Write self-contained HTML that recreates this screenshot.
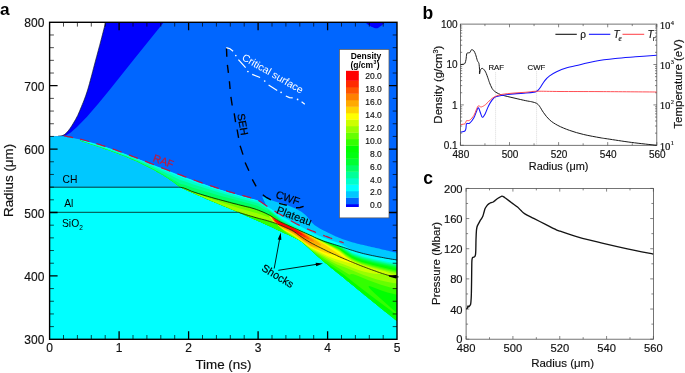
<!DOCTYPE html>
<html><head><meta charset="utf-8"><title>figure</title>
<style>
html,body{margin:0;padding:0;background:#fff;}
body{width:685px;height:373px;overflow:hidden;font-family:"Liberation Sans",sans-serif;}
svg{display:block;will-change:transform;}
.ser{font-family:"Liberation Serif",serif;}
</style></head><body>
<svg width="685" height="373" viewBox="0 0 685 373" style="font-family:'Liberation Sans',sans-serif">
<rect width="685" height="373" fill="#fff"/>
<defs>
<clipPath id="cpA"><rect x="49.6" y="22.3" width="347.4" height="317.0"/></clipPath>
<clipPath id="cpS"><polygon points="80.0,139.5 82.0,140.0 84.0,140.5 86.0,141.0 88.0,141.6 90.0,142.1 92.0,142.7 94.0,143.3 96.1,143.9 98.1,144.5 100.1,145.1 102.1,145.8 104.1,146.4 106.1,147.1 108.1,147.8 110.1,148.5 112.1,149.2 114.1,149.9 116.1,150.6 118.1,151.3 120.1,152.1 122.1,152.8 124.1,153.6 126.1,154.3 128.2,155.1 130.2,155.8 132.2,156.6 134.2,157.4 136.2,158.2 138.2,159.0 140.2,159.7 142.2,160.5 144.2,161.3 146.2,162.1 148.2,162.9 150.2,163.7 152.2,164.5 154.2,165.3 156.2,166.1 158.2,166.9 160.3,167.6 162.3,168.4 164.3,169.2 166.3,170.0 168.3,170.8 170.3,171.6 172.3,172.3 174.3,173.1 176.3,173.9 178.3,174.6 180.3,175.4 182.3,176.2 184.3,176.9 186.3,177.7 188.3,178.4 190.3,179.1 192.4,179.9 194.4,180.6 196.4,181.3 198.4,182.0 200.4,182.7 202.4,183.4 204.4,184.1 206.4,184.8 208.4,185.5 210.4,186.2 212.4,186.8 214.4,187.5 216.4,188.1 218.4,188.8 220.4,189.4 222.4,190.1 224.5,190.7 226.5,191.3 228.5,191.9 230.5,192.5 232.5,193.1 234.5,193.7 236.5,194.3 238.5,194.9 240.5,195.4 242.5,196.0 244.5,196.5 246.5,197.1 248.5,197.6 250.5,198.2 252.5,198.7 254.5,199.2 256.6,199.7 258.6,200.7 260.6,202.0 262.6,203.2 264.6,204.4 266.6,205.7 268.6,206.9 270.6,208.1 272.6,209.4 274.6,210.6 276.6,211.8 278.6,213.1 280.6,214.3 282.6,215.4 284.6,216.6 286.6,217.8 288.7,219.0 290.7,220.1 292.7,221.3 294.7,222.4 296.7,223.5 298.7,224.5 300.7,225.5 302.7,226.4 304.7,227.3 306.7,228.2 308.7,229.0 310.7,229.9 312.7,230.7 314.7,231.5 316.7,232.3 318.7,233.1 320.8,233.9 322.8,234.7 324.8,235.4 326.8,236.2 328.8,236.9 330.8,237.7 332.8,238.4 334.8,239.1 336.8,239.9 338.8,240.6 340.8,241.3 342.8,242.1 344.8,242.8 346.8,243.6 348.8,244.4 350.8,245.2 352.9,246.0 354.9,246.8 356.9,247.6 358.9,248.3 360.9,249.0 362.9,249.7 364.9,250.4 366.9,250.9 368.9,251.5 370.9,252.0 372.9,252.5 374.9,252.9 376.9,253.4 378.9,253.8 380.9,254.2 382.9,254.7 385.0,255.1 387.0,255.4 389.0,255.8 391.0,256.2 393.0,256.6 395.0,256.9 397.0,257.3 399.0,257.7 399.0,322.6 397.0,321.0 395.0,319.4 393.0,317.8 391.0,316.2 389.0,314.6 387.0,313.0 385.0,311.4 382.9,309.8 380.9,308.2 378.9,306.6 376.9,304.9 374.9,303.3 372.9,301.7 370.9,300.1 368.9,298.5 366.9,296.8 364.9,295.2 362.9,293.6 360.9,291.9 358.9,290.3 356.9,288.7 354.9,287.0 352.9,285.3 350.8,283.7 348.8,282.0 346.8,280.4 344.8,278.7 342.8,277.1 340.8,275.5 338.8,273.9 336.8,272.3 334.8,270.7 332.8,269.1 330.8,267.5 328.8,265.8 326.8,264.1 324.8,262.4 322.8,260.7 320.8,258.9 318.7,257.2 316.7,255.4 314.7,253.6 312.7,251.8 310.7,250.0 308.7,248.1 306.7,246.3 304.7,244.6 302.7,242.8 300.7,241.3 298.7,240.0 296.7,238.9 294.7,238.0 292.7,237.0 290.7,236.0 288.7,235.1 286.6,234.1 284.6,233.2 282.6,232.3 280.6,231.3 278.6,230.4 276.6,229.5 274.6,228.5 272.6,227.6 270.6,226.6 268.6,225.7 266.6,224.8 264.6,223.9 262.6,223.0 260.6,222.1 258.6,221.2 256.6,220.3 254.5,219.5 252.5,218.6 250.5,217.7 248.5,216.8 246.5,215.9 244.5,215.0 242.5,214.1 240.5,213.2 238.5,212.3 236.5,211.5 234.5,210.6 232.5,209.8 230.5,208.9 228.5,208.1 226.5,207.3 224.5,206.4 222.4,205.6 220.4,204.8 218.4,204.0 216.4,203.1 214.4,202.3 212.4,201.4 210.4,200.6 208.4,199.7 206.4,198.9 204.4,198.0 202.4,197.1 200.4,196.2 198.4,195.4 196.4,194.5 194.4,193.6 192.4,192.7 190.3,191.8 188.3,190.9 186.3,190.0 184.3,189.1 182.3,188.2 180.3,187.3 178.3,185.7 176.3,184.2 174.3,182.7 172.3,181.3 170.3,179.9 168.3,178.6 166.3,177.3 164.3,176.0 162.3,174.8 160.3,173.6 158.2,172.4 156.2,171.2 154.2,170.1 152.2,169.0 150.2,167.9 148.2,166.9 146.2,165.9 144.2,164.9 142.2,163.9 140.2,162.9 138.2,162.0 136.2,161.1 134.2,160.2 132.2,159.4 130.2,158.5 128.2,157.7 126.1,156.8 124.1,156.0 122.1,155.3 120.1,154.5 118.1,153.7 116.1,153.0 114.1,152.2 112.1,151.5 110.1,150.8 108.1,150.1 106.1,149.4 104.1,148.7 102.1,148.0 100.1,147.3 98.1,146.6 96.1,145.9 94.0,145.3 92.0,144.6 90.0,143.9 88.0,143.2 86.0,142.5 84.0,141.9 82.0,141.2 80.0,140.5"/></clipPath>
</defs>
<g clip-path="url(#cpA)">
<rect x="49.6" y="22.3" width="347.4" height="317.0" fill="#0066ff"/>
<polygon points="105.7,22.0 164.0,22.0 135.0,58.0 109.5,90.0 98.0,104.0 87.0,116.8 77.0,127.0 70.8,132.5 65.0,136.0 62.0,136.2 58.0,136.2 63.0,135.4 66.5,132.8 70.0,128.5 73.5,123.0 77.7,115.5 81.5,106.5 84.9,98.0 88.8,86.0 95.2,62.0 101.1,40.0 105.7,22.0" fill="#0000fe"/>
<path d="M49,22 L105.7,22 L105.70,22.00 C104.93,25.00 102.85,33.33 101.10,40.00 C99.35,46.67 97.25,54.33 95.20,62.00 C93.15,69.67 90.52,80.00 88.80,86.00 C87.08,92.00 86.12,94.58 84.90,98.00 C83.68,101.42 82.70,103.58 81.50,106.50 C80.30,109.42 79.03,112.75 77.70,115.50 C76.37,118.25 74.78,120.83 73.50,123.00 C72.22,125.17 71.17,126.87 70.00,128.50 C68.83,130.13 67.67,131.65 66.50,132.80 C65.33,133.95 64.42,134.83 63.00,135.40 C61.58,135.97 58.83,136.07 58.00,136.20 L49,136.2 Z" fill="#fff"/>
<path d="M105.70,22.00 C104.93,25.00 102.85,33.33 101.10,40.00 C99.35,46.67 97.25,54.33 95.20,62.00 C93.15,69.67 90.52,80.00 88.80,86.00 C87.08,92.00 86.12,94.58 84.90,98.00 C83.68,101.42 82.70,103.58 81.50,106.50 C80.30,109.42 79.03,112.75 77.70,115.50 C76.37,118.25 74.78,120.83 73.50,123.00 C72.22,125.17 71.17,126.87 70.00,128.50 C68.83,130.13 67.67,131.65 66.50,132.80 C65.33,133.95 64.42,134.83 63.00,135.40 C61.58,135.97 58.83,136.07 58.00,136.20" fill="none" stroke="#101030" stroke-width="0.7"/>
<path d="M364.8,22 L385.2,22 L381.6,25.4 L378.4,27.8 Q376.5,28.8 374.4,28 L370.6,26.3 L367.5,24.2 Z" fill="#0000fe"/>
<polygon points="49.5,136.2 51.4,136.2 53.3,136.2 55.2,136.2 57.1,136.2 59.0,136.2 60.9,136.2 62.8,136.3 64.7,136.4 66.6,136.9 68.6,137.2 70.5,137.6 72.4,137.9 74.3,138.3 76.2,138.7 78.1,139.1 80.0,139.5 81.9,140.0 83.8,140.5 85.7,141.0 87.6,141.5 89.5,142.0 91.4,142.5 93.3,143.1 95.2,143.6 97.1,144.2 99.0,144.8 100.9,145.4 102.8,146.0 104.7,146.7 106.7,147.3 108.6,148.0 110.5,148.6 112.4,149.3 114.3,150.0 116.2,150.6 118.1,151.3 120.0,152.0 121.9,152.7 123.8,153.4 125.7,154.2 127.6,154.9 129.5,155.6 131.4,156.3 133.3,157.1 135.2,157.8 137.1,158.5 139.0,159.3 140.9,160.0 142.8,160.8 144.8,161.5 146.7,162.3 148.6,163.0 150.5,163.8 152.4,164.5 154.3,165.3 156.2,166.0 158.1,166.8 160.0,167.5 161.9,168.3 163.8,169.0 165.7,169.8 167.6,170.5 169.5,171.3 171.4,172.0 173.3,172.7 175.2,173.5 177.1,174.2 179.0,174.9 180.9,175.6 182.9,176.4 184.8,177.1 186.7,177.8 188.6,178.5 190.5,179.2 192.4,179.9 194.3,180.6 196.2,181.2 198.1,181.9 200.0,182.6 200.0,187.2 49.5,187.2" fill="#00c8ff"/>
<polygon points="49.5,187.2 180.0,187.2 180.0,187.2 182.2,188.2 184.4,189.2 186.6,190.2 188.8,191.2 191.1,192.2 193.3,193.1 195.5,194.1 197.7,195.1 199.9,196.0 202.1,197.0 204.3,198.0 206.5,198.9 208.8,199.9 211.0,200.8 213.2,201.8 215.4,202.7 217.6,203.6 219.8,204.5 222.0,205.4 224.2,206.4 226.5,207.3 228.7,208.2 230.9,209.1 233.1,210.0 235.3,211.0 237.5,211.9 239.7,212.9 241.9,213.9 244.2,214.9 246.4,215.9 248.6,216.9 250.8,217.8 253.0,218.8 255.2,219.7 257.4,220.7 259.6,221.6 261.8,222.6 264.1,223.6 266.3,224.6 268.5,225.7 270.7,226.7 272.9,227.7 275.1,228.8 277.3,229.8 279.5,230.8 281.8,231.9 284.0,232.9 286.2,233.9 288.4,234.9 290.6,236.0 292.8,237.1 295.0,238.1 297.2,239.2 299.5,240.5 301.7,242.0 303.9,243.8 306.1,245.8 308.3,247.7 310.5,249.8 312.7,251.8 314.9,253.8 317.2,255.8 319.4,257.7 321.6,259.6 323.8,261.6 326.0,263.5 328.2,265.3 330.4,267.2 332.6,269.0 334.8,270.7 337.1,272.5 339.3,274.3 341.5,276.0 343.7,277.8 345.9,279.6 348.1,281.4 350.3,283.2 352.5,285.1 354.8,286.9 357.0,288.7 359.2,290.5 361.4,292.4 363.6,294.2 365.8,296.0 368.0,297.7 370.2,299.5 372.5,301.3 374.7,303.1 376.9,304.9 379.1,306.7 381.3,308.5 383.5,310.2 385.7,312.0 387.9,313.8 390.2,315.5 392.4,317.3 394.6,319.1 396.8,320.8 399.0,322.6 399.0,340.0 49.5,340.0" fill="#00ffff"/>
<polygon points="262.1,196.4 262.1,196.4 263.6,197.1 265.2,197.7 266.7,198.4 268.3,199.0 269.8,199.6 271.3,200.2 272.9,200.8 274.4,201.3 275.9,201.8 277.5,202.3 279.0,202.7 280.6,203.1 282.1,203.6 283.6,204.0 285.2,204.5 286.7,205.0 288.2,205.6 289.8,206.2 291.3,206.8 292.9,207.4 294.4,208.1 295.9,208.8 297.5,209.5 299.0,210.4 300.6,211.3 302.1,212.3 303.6,213.5 305.2,214.8 306.7,216.3 308.2,218.1 309.8,220.0 311.3,221.9 312.9,223.6 314.4,224.9 315.9,226.0 317.5,227.1 319.0,228.0 320.6,228.9 322.1,229.7 323.6,230.4 325.2,231.2 326.7,231.9 328.2,232.7 329.8,233.4 331.3,234.2 332.9,234.9 334.4,235.7 335.9,236.4 337.5,237.0 339.0,237.7 340.5,238.3 342.1,238.9 343.6,239.4 345.2,240.0 346.7,240.5 348.2,241.0 349.8,241.5 351.3,241.9 352.9,242.4 354.4,242.8 355.9,243.3 357.5,243.7 359.0,244.0 360.5,244.4 362.1,244.8 363.6,245.1 365.2,245.5 366.7,245.8 368.2,246.2 369.8,246.5 371.3,246.9 372.9,247.2 374.4,247.6 375.9,247.9 377.5,248.3 379.0,248.6 380.5,249.0 382.1,249.4 383.6,249.7 385.2,250.1 386.7,250.5 388.2,250.8 389.8,251.2 391.3,251.6 392.8,251.9 394.4,252.3 395.9,252.6 397.5,253.0 399.0,253.4 399.0,260.7 397.5,260.4 396.0,260.1 394.5,259.9 393.0,259.6 391.5,259.3 390.0,259.0 388.6,258.8 387.1,258.5 385.6,258.2 384.1,257.9 382.6,257.6 381.1,257.3 379.6,257.0 378.1,256.6 376.6,256.3 375.1,256.0 373.6,255.6 372.1,255.3 370.6,254.9 369.2,254.5 367.7,254.1 366.2,253.7 364.7,253.3 363.2,252.8 361.7,252.3 360.2,251.8 358.7,251.3 357.2,250.7 355.7,250.1 354.2,249.6 352.7,249.0 351.3,248.4 349.8,247.8 348.3,247.2 346.8,246.6 345.3,246.0 343.8,245.4 342.3,244.9 340.8,244.3 339.3,243.8 337.8,243.2 336.3,242.7 334.8,242.2 333.3,241.6 331.9,241.1 330.4,240.5 328.9,240.0 327.4,239.4 325.9,238.8 324.4,238.3 322.9,237.7 321.4,237.1 319.9,236.6 318.4,236.0 316.9,235.4 315.4,234.8 313.9,234.2 312.5,233.6 311.0,233.0 309.5,232.4 308.0,231.7 306.5,231.1 305.0,230.4 303.5,229.8 302.0,229.1 300.5,228.4 299.0,227.7 297.5,226.9 296.0,226.1 294.6,225.3 293.1,224.5 291.6,223.7 290.1,222.8 288.6,221.9 287.1,221.1 285.6,220.2 284.1,219.3 282.6,218.4 281.1,217.6 279.6,216.7 278.1,215.8 276.6,214.9 275.2,213.9 273.7,213.0 272.2,212.1 270.7,211.2 269.2,210.3 267.7,209.3 266.2,208.4 266.2,205.4" fill="#00c8ff"/>
<g clip-path="url(#cpS)" fill-rule="evenodd">
<polygon points="80.0,139.5 82.0,140.0 84.0,140.5 86.0,141.0 88.0,141.6 90.0,142.1 92.0,142.7 94.0,143.3 96.1,143.9 98.1,144.5 100.1,145.1 102.1,145.8 104.1,146.4 106.1,147.1 108.1,147.8 110.1,148.5 112.1,149.2 114.1,149.9 116.1,150.6 118.1,151.3 120.1,152.1 122.1,152.8 124.1,153.6 126.1,154.3 128.2,155.1 130.2,155.8 132.2,156.6 134.2,157.4 136.2,158.2 138.2,159.0 140.2,159.7 142.2,160.5 144.2,161.3 146.2,162.1 148.2,162.9 150.2,163.7 152.2,164.5 154.2,165.3 156.2,166.1 158.2,166.9 160.3,167.6 162.3,168.4 164.3,169.2 166.3,170.0 168.3,170.8 170.3,171.6 172.3,172.3 174.3,173.1 176.3,173.9 178.3,174.6 180.3,175.4 182.3,176.2 184.3,176.9 186.3,177.7 188.3,178.4 190.3,179.1 192.4,179.9 194.4,180.6 196.4,181.3 198.4,182.0 200.4,182.7 202.4,183.4 204.4,184.1 206.4,184.8 208.4,185.5 210.4,186.2 212.4,186.8 214.4,187.5 216.4,188.1 218.4,188.8 220.4,189.4 222.4,190.1 224.5,190.7 226.5,191.3 228.5,191.9 230.5,192.5 232.5,193.1 234.5,193.7 236.5,194.3 238.5,194.9 240.5,195.4 242.5,196.0 244.5,196.5 246.5,197.1 248.5,197.6 250.5,198.2 252.5,198.7 254.5,199.2 256.6,199.7 258.6,200.7 260.6,202.0 262.6,203.2 264.6,204.4 266.6,205.7 268.6,206.9 270.6,208.1 272.6,209.4 274.6,210.6 276.6,211.8 278.6,213.1 280.6,214.3 282.6,215.4 284.6,216.6 286.6,217.8 288.7,219.0 290.7,220.1 292.7,221.3 294.7,222.4 296.7,223.5 298.7,224.5 300.7,225.5 302.7,226.4 304.7,227.3 306.7,228.2 308.7,229.0 310.7,229.9 312.7,230.7 314.7,231.5 316.7,232.3 318.7,233.1 320.8,233.9 322.8,234.7 324.8,235.4 326.8,236.2 328.8,236.9 330.8,237.7 332.8,238.4 334.8,239.1 336.8,239.9 338.8,240.6 340.8,241.3 342.8,242.1 344.8,242.8 346.8,243.6 348.8,244.4 350.8,245.2 352.9,246.0 354.9,246.8 356.9,247.6 358.9,248.3 360.9,249.0 362.9,249.7 364.9,250.4 366.9,250.9 368.9,251.5 370.9,252.0 372.9,252.5 374.9,252.9 376.9,253.4 378.9,253.8 380.9,254.2 382.9,254.7 385.0,255.1 387.0,255.4 389.0,255.8 391.0,256.2 393.0,256.6 395.0,256.9 397.0,257.3 399.0,257.7 399.0,322.6 397.0,321.0 395.0,319.4 393.0,317.8 391.0,316.2 389.0,314.6 387.0,313.0 385.0,311.4 382.9,309.8 380.9,308.2 378.9,306.6 376.9,304.9 374.9,303.3 372.9,301.7 370.9,300.1 368.9,298.5 366.9,296.8 364.9,295.2 362.9,293.6 360.9,291.9 358.9,290.3 356.9,288.7 354.9,287.0 352.9,285.3 350.8,283.7 348.8,282.0 346.8,280.4 344.8,278.7 342.8,277.1 340.8,275.5 338.8,273.9 336.8,272.3 334.8,270.7 332.8,269.1 330.8,267.5 328.8,265.8 326.8,264.1 324.8,262.4 322.8,260.7 320.8,258.9 318.7,257.2 316.7,255.4 314.7,253.6 312.7,251.8 310.7,250.0 308.7,248.1 306.7,246.3 304.7,244.6 302.7,242.8 300.7,241.3 298.7,240.0 296.7,238.9 294.7,238.0 292.7,237.0 290.7,236.0 288.7,235.1 286.6,234.1 284.6,233.2 282.6,232.3 280.6,231.3 278.6,230.4 276.6,229.5 274.6,228.5 272.6,227.6 270.6,226.6 268.6,225.7 266.6,224.8 264.6,223.9 262.6,223.0 260.6,222.1 258.6,221.2 256.6,220.3 254.5,219.5 252.5,218.6 250.5,217.7 248.5,216.8 246.5,215.9 244.5,215.0 242.5,214.1 240.5,213.2 238.5,212.3 236.5,211.5 234.5,210.6 232.5,209.8 230.5,208.9 228.5,208.1 226.5,207.3 224.5,206.4 222.4,205.6 220.4,204.8 218.4,204.0 216.4,203.1 214.4,202.3 212.4,201.4 210.4,200.6 208.4,199.7 206.4,198.9 204.4,198.0 202.4,197.1 200.4,196.2 198.4,195.4 196.4,194.5 194.4,193.6 192.4,192.7 190.3,191.8 188.3,190.9 186.3,190.0 184.3,189.1 182.3,188.2 180.3,187.3 178.3,185.7 176.3,184.2 174.3,182.7 172.3,181.3 170.3,179.9 168.3,178.6 166.3,177.3 164.3,176.0 162.3,174.8 160.3,173.6 158.2,172.4 156.2,171.2 154.2,170.1 152.2,169.0 150.2,167.9 148.2,166.9 146.2,165.9 144.2,164.9 142.2,163.9 140.2,162.9 138.2,162.0 136.2,161.1 134.2,160.2 132.2,159.4 130.2,158.5 128.2,157.7 126.1,156.8 124.1,156.0 122.1,155.3 120.1,154.5 118.1,153.7 116.1,153.0 114.1,152.2 112.1,151.5 110.1,150.8 108.1,150.1 106.1,149.4 104.1,148.7 102.1,148.0 100.1,147.3 98.1,146.6 96.1,145.9 94.0,145.3 92.0,144.6 90.0,143.9 88.0,143.2 86.0,142.5 84.0,141.9 82.0,141.2 80.0,140.5" fill="#00c8ff"/>
<path d="M76.0,138.8L95.5,143.8L106.5,147.2L108.5,148.1L109.5,148.3L110.0,148.6L111.0,148.8L111.5,149.1L112.5,149.3L113.0,149.6L114.0,149.8L117.0,151.0L118.0,151.3L118.5,151.6L119.5,151.8L120.0,152.1L122.0,152.7L122.5,153.1L123.5,153.3L124.0,153.6L126.0,154.2L126.5,154.6L127.5,154.8L128.0,155.1L130.0,155.7L130.5,156.1L136.5,158.2L137.0,158.6L139.0,159.2L139.5,159.6L141.5,160.2L142.0,160.6L144.0,161.2L144.5,161.6L146.5,162.2L151.0,164.2L151.5,164.2L153.5,165.2L180.0,175.6L206.5,185.1L219.0,189.2L231.5,193.1L244.0,196.6L256.0,199.8L256.5,200.2L257.5,200.2L258.5,201.2L259.0,201.3L261.0,202.7L261.5,202.8L263.5,204.2L264.0,204.4L266.0,205.8L266.5,205.9L267.5,206.7L269.0,207.5L270.0,208.3L271.5,209.0L274.0,210.8L274.5,210.9L275.5,211.8L276.0,211.9L277.5,213.3L278.0,213.4L280.5,215.3L282.0,216.0L283.0,216.8L283.5,216.9L284.0,217.4L285.5,218.0L286.5,218.8L287.0,218.9L287.5,219.3L288.0,219.4L288.5,219.9L291.0,221.0L292.0,221.8L292.5,221.9L293.0,222.3L293.5,222.4L294.0,222.9L295.5,223.5L296.5,224.3L297.0,224.4L297.5,224.8L298.0,224.9L298.5,225.4L300.0,226.0L301.0,226.8L301.5,226.9L302.0,227.3L302.5,227.4L303.0,227.8L303.5,227.9L304.0,228.3L304.5,228.4L305.0,228.8L305.5,228.9L306.0,229.4L306.5,229.4L307.0,229.9L307.5,229.9L308.0,230.4L310.5,231.5L311.5,232.3L312.0,232.4L312.5,232.8L314.0,233.4L314.5,233.8L315.0,233.9L315.5,234.3L316.5,234.5L319.0,235.8L319.5,235.9L320.0,236.3L321.0,236.5L322.5,237.3L323.5,237.5L324.0,237.9L324.5,237.9L325.0,238.3L326.0,238.4L326.5,238.8L327.5,239.0L328.0,239.3L328.5,239.4L329.0,239.8L330.0,239.9L330.5,240.3L331.5,240.4L332.0,240.8L333.0,241.0L333.5,241.3L334.5,241.5L335.0,241.8L336.0,242.0L336.5,242.3L337.5,242.5L338.0,242.8L339.0,243.0L339.5,243.3L340.0,243.4L340.5,243.8L341.0,243.9L341.5,244.3L342.0,244.4L342.5,244.8L346.0,246.5L347.0,247.3L347.5,247.4L348.0,247.8L349.5,248.5L350.5,249.3L351.0,249.4L352.5,250.3L353.5,250.5L354.0,250.8L354.5,250.9L355.0,251.3L356.0,251.4L356.5,251.8L357.5,252.0L358.0,252.3L359.0,252.5L359.5,252.8L360.5,253.0L361.0,253.3L362.0,253.4L362.5,253.8L364.0,253.9L364.5,254.3L366.5,254.5L367.0,254.8L368.5,255.0L369.0,255.3L371.0,255.5L371.5,255.8L373.5,256.0L374.0,256.3L376.0,256.5L376.5,256.8L378.5,257.0L379.0,257.3L381.0,257.5L381.5,257.8L383.5,258.0L384.0,258.3L386.5,258.5L387.0,258.8L389.5,259.0L390.0,259.3L392.5,259.5L393.0,259.8L395.5,260.0L396.0,260.3L398.5,260.5L399.0,260.8L400.0,260.9L400.0,324.0L76.0,324.0Z" fill="#00ffff"/>
<path d="M76.0,139.1L77.0,139.1L77.5,139.5L78.5,139.6L79.0,140.0L80.0,140.1L80.5,140.5L81.0,140.6L81.5,141.0L82.5,141.1L83.0,141.5L84.0,141.6L84.5,142.0L85.5,142.0L86.0,142.5L87.0,142.5L87.5,143.0L88.5,143.0L89.0,143.5L90.0,143.5L90.5,144.0L91.5,144.0L92.0,144.3L96.1,145.0L100.2,146.0L110.9,149.5L120.8,153.0L132.8,157.5L146.6,163.0L180.0,177.1L196.5,183.0L211.5,188.0L225.9,192.5L240.0,196.6L257.5,201.3L264.0,205.3L282.1,219.0L301.0,229.5L314.5,236.5L322.9,240.0L331.5,243.0L340.0,245.7L341.5,246.5L342.0,246.6L342.5,247.0L343.5,247.2L344.0,247.6L345.0,248.0L346.0,249.0L352.0,252.5L361.5,256.0L376.0,259.5L388.5,262.0L400.0,263.9L400.0,324.0L76.0,324.0Z" fill="#00ffcc"/>
<path d="M76.0,139.1L77.0,139.1L77.5,139.6L78.5,139.6L79.0,140.1L80.0,140.1L80.5,140.6L81.0,140.6L81.5,141.1L82.5,141.1L83.0,141.6L84.0,141.6L84.5,142.1L85.5,142.1L86.0,142.6L87.0,142.6L87.5,143.1L88.5,143.1L89.0,143.6L90.0,143.6L90.5,144.1L91.5,144.1L92.0,144.6L93.0,144.6L93.5,145.1L94.5,145.1L95.0,145.5L96.0,145.6L96.5,146.0L97.5,146.0L98.0,146.5L99.0,146.5L99.5,147.0L100.5,147.0L101.0,147.5L102.0,147.5L102.5,148.0L103.5,148.0L104.0,148.5L105.0,148.5L105.5,149.0L106.0,149.0L119.2,153.5L132.7,158.5L146.1,164.0L157.5,169.0L170.2,175.0L180.0,179.9L184.5,181.2L193.5,184.4L218.5,192.3L234.5,196.9L257.5,203.1L266.0,208.0L266.5,207.9L275.0,214.4L280.0,218.6L282.0,220.0L305.5,233.0L306.0,233.0L306.5,233.5L307.0,233.5L307.5,234.0L308.0,234.0L308.5,234.5L309.0,234.5L309.5,235.0L310.5,235.0L311.0,235.5L311.5,235.5L312.0,236.0L312.5,236.0L313.0,236.5L313.5,236.5L314.0,237.0L314.5,237.0L315.0,237.5L316.0,237.6L316.5,238.0L317.0,238.0L317.5,238.5L318.0,238.5L318.5,239.0L319.5,239.1L320.0,239.5L320.5,239.6L321.0,240.0L322.0,240.1L322.5,240.5L323.0,240.6L323.5,241.0L324.5,241.1L325.0,241.5L326.0,241.6L326.5,242.0L327.5,242.1L328.0,242.5L329.0,242.6L329.5,243.1L330.5,243.1L331.0,243.6L332.0,243.6L332.5,244.1L334.0,244.2L334.5,244.6L335.5,244.7L336.0,245.1L337.0,245.2L337.5,245.6L338.5,245.7L339.0,246.1L340.0,246.3L340.5,246.7L341.8,247.0L346.0,249.8L352.0,253.4L356.0,255.0L362.0,257.1L372.5,259.8L387.0,262.9L400.0,265.2L400.0,324.0L76.0,324.0Z" fill="#00ff99"/>
<path d="M76.0,139.2L77.0,139.2L77.5,139.7L78.5,139.7L79.0,140.2L80.0,140.2L80.5,140.7L81.0,140.7L81.5,141.2L82.5,141.2L83.0,141.7L84.0,141.7L84.5,142.2L85.5,142.2L86.0,142.7L87.0,142.7L87.5,143.2L88.5,143.2L89.0,143.7L90.0,143.7L90.5,144.2L91.5,144.2L92.0,144.6L93.0,144.7L93.5,145.1L94.5,145.1L95.0,145.6L96.0,145.6L96.5,146.1L97.5,146.1L98.0,146.6L99.0,146.6L99.5,147.1L100.5,147.1L101.0,147.6L102.0,147.6L102.5,148.1L103.5,148.1L104.0,148.6L105.0,148.6L105.5,149.1L106.0,149.1L106.5,149.6L107.5,149.6L108.0,150.1L109.0,150.1L109.5,150.6L110.5,150.6L111.0,151.1L112.0,151.1L112.5,151.6L113.0,151.6L113.5,152.1L114.5,152.1L115.0,152.6L116.0,152.6L116.5,153.1L117.5,153.1L118.0,153.6L118.5,153.6L119.0,154.1L120.0,154.1L120.5,154.6L121.0,154.6L121.5,155.1L122.5,155.1L123.0,155.6L124.0,155.6L124.5,156.1L125.0,156.1L125.5,156.5L126.5,156.6L127.0,157.1L127.5,157.1L128.0,157.5L128.5,157.6L129.0,158.0L130.0,158.1L130.5,158.5L131.0,158.6L131.5,159.0L132.5,159.1L133.0,159.5L133.5,159.6L134.0,160.0L134.5,160.0L135.0,160.5L135.5,160.5L136.0,161.0L137.0,161.0L137.5,161.5L138.0,161.5L138.5,162.0L139.0,162.0L139.5,162.5L140.0,162.5L140.5,163.0L141.0,163.0L141.5,163.5L142.0,163.5L142.5,164.0L143.0,164.0L143.5,164.5L144.0,164.5L144.5,164.9L151.2,168.0L160.1,172.5L173.0,179.5L179.5,183.3L180.0,183.8L184.5,184.8L193.0,187.7L219.0,195.4L235.5,199.8L255.0,204.9L257.5,205.7L267.5,211.1L267.7,210.0L268.0,209.8L275.0,215.3L279.5,219.3L281.5,220.7L295.1,228.5L296.0,228.5L296.5,229.0L297.0,229.0L297.5,229.5L298.0,229.5L298.5,230.0L299.0,230.0L299.5,230.5L300.0,230.5L300.5,231.0L301.5,231.0L302.0,231.5L302.5,231.5L303.0,232.0L303.5,232.0L304.0,232.5L304.5,232.5L305.0,233.0L306.0,233.1L306.5,233.6L307.0,233.6L307.5,234.1L308.0,234.1L308.5,234.6L309.0,234.6L309.5,235.1L310.5,235.1L311.0,235.6L311.5,235.6L312.0,236.1L312.5,236.1L313.0,236.6L313.5,236.6L314.0,237.1L314.5,237.1L315.0,237.6L316.0,237.6L316.5,238.1L317.0,238.1L317.5,238.6L318.0,238.6L318.5,239.1L319.5,239.1L320.0,239.6L320.5,239.6L321.0,240.1L322.0,240.1L322.5,240.6L323.0,240.6L323.5,241.1L324.5,241.2L325.0,241.6L326.0,241.7L326.5,242.1L327.5,242.2L328.0,242.7L329.0,242.7L329.5,243.2L330.5,243.2L331.0,243.7L332.0,243.8L332.5,244.2L334.0,244.3L334.5,244.8L335.5,244.9L336.0,245.3L337.0,245.4L337.5,245.8L338.5,246.0L342.2,248.0L346.0,250.6L352.0,254.3L356.0,255.9L362.0,258.1L372.5,260.8L387.5,264.1L400.0,266.4L400.0,324.0L76.0,324.0Z" fill="#00ff66"/>
<path d="M76.0,139.3L77.0,139.3L77.5,139.8L78.5,139.8L79.0,140.3L80.0,140.3L80.5,140.8L81.0,140.8L81.5,141.3L82.5,141.3L83.0,141.8L84.0,141.8L84.5,142.3L85.5,142.3L86.0,142.8L87.0,142.8L87.5,143.2L88.5,143.2L89.0,143.7L90.0,143.7L90.5,144.2L91.5,144.2L92.0,144.7L93.0,144.7L93.5,145.2L94.5,145.2L95.0,145.7L96.0,145.7L96.5,146.2L97.5,146.2L98.0,146.7L99.0,146.7L99.5,147.2L100.5,147.2L101.0,147.7L102.0,147.7L102.5,148.2L103.5,148.2L104.0,148.7L105.0,148.7L105.5,149.2L106.0,149.2L106.5,149.7L107.5,149.7L108.0,150.2L109.0,150.2L109.5,150.7L110.5,150.7L111.0,151.2L112.0,151.2L112.5,151.7L113.0,151.7L113.5,152.2L114.5,152.2L115.0,152.7L116.0,152.7L116.5,153.2L117.5,153.2L118.0,153.7L118.5,153.7L119.0,154.2L120.0,154.2L120.5,154.7L121.0,154.7L121.5,155.2L122.5,155.2L123.0,155.7L124.0,155.7L124.5,156.2L125.0,156.2L125.5,156.6L126.5,156.7L127.0,157.2L127.5,157.2L128.0,157.6L128.5,157.7L129.0,158.1L130.0,158.2L130.5,158.6L131.0,158.7L131.5,159.1L132.5,159.2L133.0,159.6L133.5,159.7L134.0,160.1L134.5,160.1L135.0,160.6L135.5,160.6L136.0,161.1L137.0,161.1L137.5,161.6L138.0,161.6L138.5,162.1L139.0,162.1L139.5,162.6L140.0,162.6L140.5,163.1L141.0,163.1L141.5,163.6L142.0,163.6L142.5,164.1L143.0,164.1L143.5,164.6L144.0,164.6L144.5,165.1L145.0,165.1L145.5,165.6L146.0,165.6L146.5,166.1L147.0,166.1L147.5,166.6L148.0,166.6L148.5,167.1L149.0,167.1L149.5,167.6L150.0,167.6L150.5,168.1L151.0,168.1L151.5,168.6L152.0,168.6L152.5,169.1L153.0,169.1L153.5,169.6L154.0,169.6L155.0,170.6L155.5,170.6L156.0,171.1L156.5,171.1L157.0,171.6L157.5,171.6L158.5,172.6L159.0,172.6L159.5,173.1L160.0,173.1L161.0,174.1L161.5,174.1L162.0,174.6L162.5,174.6L163.5,175.6L164.0,175.6L164.5,176.1L165.0,176.1L166.0,177.1L166.5,177.1L167.5,178.1L168.0,178.1L169.0,179.1L169.5,179.1L170.5,180.1L171.0,180.1L172.0,181.1L172.5,181.1L174.0,182.6L174.5,182.6L175.5,183.6L176.0,183.6L177.5,185.0L178.0,185.1L180.0,187.0L181.5,187.0L182.0,187.5L183.5,187.5L184.0,188.0L185.0,188.0L185.5,188.5L186.0,188.5L186.5,189.0L187.5,189.0L188.0,189.5L188.5,189.5L189.0,190.0L189.5,190.0L190.0,190.5L190.5,190.5L191.0,191.0L192.0,191.0L192.5,191.5L193.5,191.5L194.0,192.0L195.0,192.0L195.5,192.5L196.5,192.5L197.0,193.0L198.0,193.0L198.5,193.4L199.5,193.5L206.5,195.6L219.5,199.1L250.0,206.6L255.0,208.0L261.5,210.8L268.0,214.0L268.6,214.5L269.4,214.5L269.5,212.0L270.0,212.2L274.8,216.0L280.0,220.7L282.0,222.2L285.2,224.0L285.5,224.0L286.0,224.5L287.0,224.5L287.5,225.0L288.0,225.0L288.5,225.5L289.0,225.5L289.5,226.0L290.0,226.0L290.5,226.5L291.5,226.5L292.0,227.0L292.5,227.0L293.0,227.5L293.5,227.5L294.0,228.0L294.5,228.1L295.0,228.5L296.0,228.6L296.5,229.1L297.0,229.1L297.5,229.6L298.0,229.6L298.5,230.1L299.0,230.1L299.5,230.6L300.0,230.6L300.5,231.1L301.5,231.1L302.0,231.6L302.5,231.6L303.0,232.1L303.5,232.1L304.0,232.6L304.5,232.6L305.0,233.1L306.0,233.1L306.5,233.6L307.0,233.6L307.5,234.1L308.0,234.1L308.5,234.6L309.0,234.6L309.5,235.1L310.5,235.1L311.0,235.6L311.5,235.6L312.0,236.1L312.5,236.1L313.0,236.6L313.5,236.6L314.0,237.1L314.5,237.2L315.0,237.6L316.0,237.7L316.5,238.2L317.0,238.2L317.5,238.7L318.0,238.7L318.5,239.2L319.5,239.2L320.0,239.7L320.5,239.7L321.0,240.2L322.0,240.2L322.5,240.7L323.0,240.7L323.5,241.2L324.5,241.3L325.0,241.7L326.0,241.8L326.5,242.2L327.5,242.3L328.0,242.8L329.0,242.8L329.5,243.3L330.5,243.4L331.0,243.8L332.0,243.9L332.5,244.3L333.9,244.5L334.5,244.9L336.1,245.5L341.0,248.0L346.0,251.4L352.0,255.2L356.0,256.9L362.0,259.1L373.0,261.9L388.0,265.3L400.0,267.5L400.0,324.0L76.0,324.0Z" fill="#00ff33"/>
<path d="M76.0,139.3L77.0,139.3L77.5,139.8L78.5,139.8L79.0,140.3L80.0,140.3L80.5,140.8L81.0,140.8L81.5,141.3L82.5,141.3L83.0,141.8L84.0,141.8L84.5,142.3L85.5,142.3L86.0,142.8L87.0,142.8L87.5,143.3L88.5,143.3L89.0,143.8L90.0,143.8L90.5,144.3L91.5,144.3L92.0,144.8L93.0,144.8L93.5,145.3L94.5,145.3L95.0,145.8L96.0,145.8L96.5,146.3L97.5,146.3L98.0,146.8L99.0,146.8L99.5,147.3L100.5,147.3L101.0,147.8L102.0,147.8L102.5,148.3L103.5,148.3L104.0,148.8L105.0,148.8L105.5,149.3L106.0,149.3L106.5,149.8L107.5,149.8L108.0,150.3L109.0,150.3L109.5,150.8L110.5,150.8L111.0,151.3L112.0,151.3L112.5,151.8L113.0,151.8L113.5,152.3L114.5,152.3L115.0,152.8L116.0,152.8L116.5,153.3L117.5,153.3L118.0,153.8L118.5,153.8L119.0,154.3L120.0,154.3L120.5,154.8L121.0,154.8L121.5,155.3L122.5,155.3L123.0,155.8L124.0,155.8L124.5,156.3L125.0,156.3L125.5,156.8L126.5,156.8L127.0,157.3L127.5,157.3L128.0,157.8L128.5,157.8L129.0,158.2L130.0,158.3L130.5,158.7L131.0,158.8L131.5,159.2L132.5,159.3L133.0,159.7L133.5,159.8L134.0,160.2L134.5,160.3L135.0,160.7L135.5,160.7L136.0,161.2L137.0,161.3L137.5,161.7L138.0,161.7L138.5,162.2L139.0,162.2L139.5,162.7L140.0,162.7L140.5,163.2L141.0,163.2L141.5,163.7L142.0,163.7L142.5,164.2L143.0,164.2L143.5,164.7L144.0,164.7L144.5,165.2L145.0,165.2L145.5,165.7L146.0,165.7L146.5,166.2L147.0,166.2L147.5,166.7L148.0,166.7L148.5,167.2L149.0,167.2L149.5,167.7L150.0,167.7L150.5,168.2L151.0,168.2L151.5,168.7L152.0,168.7L152.5,169.2L153.0,169.2L153.5,169.7L154.0,169.7L155.0,170.7L155.5,170.7L156.0,171.2L156.5,171.2L157.0,171.7L157.5,171.7L158.5,172.7L159.0,172.7L159.5,173.2L160.0,173.2L161.0,174.2L161.5,174.2L162.0,174.7L162.5,174.7L163.5,175.7L164.0,175.7L164.5,176.2L165.0,176.2L166.0,177.2L166.5,177.2L167.5,178.2L168.0,178.2L169.0,179.2L169.5,179.2L170.5,180.2L171.0,180.2L172.0,181.2L172.5,181.2L174.0,182.7L174.5,182.7L175.5,183.7L176.0,183.7L177.5,185.2L178.0,185.2L180.0,187.2L181.5,187.1L182.0,187.6L183.5,187.6L184.0,188.1L185.0,188.1L185.5,188.6L186.0,188.6L186.5,189.1L187.5,189.1L188.0,189.6L188.5,189.6L189.0,190.1L189.5,190.1L190.0,190.6L190.5,190.6L191.0,191.1L192.0,191.1L192.5,191.6L193.5,191.6L194.0,192.1L195.0,192.1L195.5,192.6L196.5,192.6L197.0,193.1L198.0,193.1L198.5,193.6L199.5,193.6L200.0,194.1L201.0,194.1L201.5,194.6L203.0,194.6L203.5,195.1L204.5,195.1L205.0,195.6L206.0,195.6L206.5,196.1L208.0,196.1L208.5,196.6L209.5,196.6L210.0,197.1L211.5,197.1L212.0,197.6L213.0,197.6L213.5,198.1L215.0,198.1L215.5,198.6L216.5,198.6L217.0,199.1L218.5,199.1L219.0,199.6L220.5,199.6L221.0,200.1L222.0,200.1L222.5,200.6L224.0,200.6L224.5,201.1L226.0,201.1L226.5,201.6L228.0,201.6L228.5,202.1L230.0,202.1L230.5,202.6L231.5,202.6L232.0,203.1L233.5,203.1L234.0,203.6L235.5,203.6L236.0,204.1L237.5,204.1L238.0,204.6L239.5,204.6L240.0,205.1L241.5,205.1L242.0,205.6L243.5,205.6L244.0,206.1L245.5,206.1L246.0,206.6L247.5,206.6L248.0,207.1L249.5,207.1L250.0,207.6L251.5,207.6L252.0,208.1L253.0,208.1L253.5,208.6L254.5,208.6L255.0,209.1L256.0,209.1L256.5,209.6L257.5,209.6L258.0,210.1L259.0,210.1L259.5,210.6L260.0,210.6L260.5,211.1L261.5,211.1L262.0,211.6L262.5,211.6L263.0,212.1L263.5,212.1L264.0,212.6L265.0,212.6L265.5,213.1L266.0,213.1L266.5,213.6L267.0,213.6L267.5,214.1L268.0,214.1L268.5,214.6L269.0,214.6L270.0,215.5L270.5,215.5L271.0,216.0L271.5,216.0L272.5,217.0L273.0,217.0L274.0,218.0L274.5,218.0L275.0,218.5L275.5,218.5L276.5,219.5L277.0,219.5L278.0,220.5L278.5,220.5L279.0,221.0L279.5,221.0L280.0,221.5L280.5,221.5L281.0,222.0L281.5,222.0L282.0,222.5L282.5,222.5L283.0,223.0L283.5,223.1L284.0,223.5L284.5,223.6L285.0,224.0L285.5,224.1L286.0,224.5L287.0,224.6L287.5,225.1L288.0,225.1L288.5,225.6L289.0,225.6L289.5,226.1L290.0,226.1L290.5,226.6L291.5,226.6L292.0,227.1L292.5,227.1L293.0,227.6L293.5,227.6L294.0,228.1L294.5,228.1L295.0,228.6L296.0,228.6L296.5,229.1L297.0,229.1L297.5,229.6L298.0,229.6L298.5,230.1L299.0,230.1L299.5,230.6L300.0,230.6L300.5,231.1L301.5,231.1L302.0,231.6L302.5,231.6L303.0,232.1L303.5,232.1L304.0,232.6L304.5,232.6L305.0,233.1L306.0,233.2L306.5,233.7L307.0,233.7L307.5,234.2L308.0,234.2L308.5,234.7L309.0,234.7L309.5,235.2L310.5,235.2L311.0,235.7L311.5,235.7L312.0,236.2L312.5,236.2L313.0,236.7L313.5,236.7L314.0,237.2L314.5,237.2L315.0,237.7L316.0,237.8L316.5,238.2L317.0,238.3L317.5,238.7L318.0,238.8L318.5,239.2L319.5,239.3L320.0,239.8L320.5,239.8L321.0,240.3L322.0,240.3L322.5,240.8L323.0,240.8L323.5,241.3L324.5,241.4L325.0,241.8L326.0,241.9L326.5,242.3L327.5,242.4L328.0,242.9L329.0,243.0L329.5,243.4L330.4,243.5L331.0,243.9L331.6,244.0L337.5,246.8L341.0,248.7L346.0,252.3L352.0,256.0L356.5,258.0L362.0,260.0L374.0,263.2L389.0,266.6L396.0,268.1L400.0,268.7L400.0,324.0L76.0,324.0Z" fill="#00ff10"/>
<path d="M76.0,139.4L77.0,139.4L77.5,139.9L78.5,139.9L79.0,140.4L80.0,140.4L80.5,140.9L81.0,140.9L81.5,141.4L82.5,141.4L83.0,141.9L84.0,141.9L84.5,142.4L85.5,142.4L86.0,142.9L87.0,142.9L87.5,143.4L88.5,143.4L89.0,143.9L90.0,143.9L90.5,144.4L91.5,144.4L92.0,144.9L93.0,144.9L93.5,145.4L94.5,145.4L95.0,145.9L96.0,145.9L96.5,146.4L97.5,146.4L98.0,146.9L99.0,146.9L99.5,147.4L100.5,147.4L101.0,147.9L102.0,147.9L102.5,148.4L103.5,148.4L104.0,148.9L105.0,148.9L105.5,149.4L106.0,149.4L106.5,149.9L107.5,149.9L108.0,150.4L109.0,150.4L109.5,150.9L110.5,150.9L111.0,151.4L112.0,151.4L112.5,151.9L113.0,151.9L113.5,152.4L114.5,152.4L115.0,152.9L116.0,152.9L116.5,153.4L117.5,153.4L118.0,153.9L118.5,153.9L119.0,154.4L120.0,154.4L120.5,154.9L121.0,154.9L121.5,155.4L122.5,155.4L123.0,155.9L124.0,155.9L124.5,156.4L125.0,156.4L125.5,156.9L126.5,156.9L127.0,157.4L127.5,157.4L128.0,157.9L128.5,157.9L129.0,158.4L130.0,158.4L130.5,158.9L131.0,158.9L131.5,159.4L132.5,159.4L133.0,159.9L133.5,159.9L134.0,160.4L134.5,160.4L135.0,160.8L135.5,160.9L136.0,161.3L137.0,161.4L137.5,161.8L138.0,161.9L138.5,162.3L139.0,162.4L139.5,162.8L140.0,162.9L140.5,163.3L141.0,163.3L141.5,163.8L142.0,163.8L142.5,164.3L143.0,164.3L143.5,164.8L144.0,164.8L144.5,165.3L145.0,165.3L145.5,165.8L146.0,165.8L146.5,166.3L147.0,166.3L147.5,166.8L148.0,166.8L148.5,167.3L149.0,167.3L149.5,167.8L150.0,167.8L150.5,168.3L151.0,168.3L151.5,168.8L152.0,168.8L152.5,169.3L153.0,169.3L153.5,169.8L154.0,169.8L155.0,170.8L155.5,170.8L156.0,171.3L156.5,171.3L157.0,171.8L157.5,171.8L158.5,172.8L159.0,172.8L159.5,173.3L160.0,173.3L161.0,174.3L161.5,174.3L162.0,174.8L162.5,174.8L163.5,175.8L164.0,175.8L164.5,176.3L165.0,176.3L166.0,177.3L166.5,177.3L167.5,178.3L168.0,178.3L169.0,179.3L169.5,179.3L170.5,180.3L171.0,180.3L172.0,181.3L172.5,181.3L174.0,182.8L174.5,182.8L175.5,183.8L176.0,183.8L177.5,185.3L178.0,185.3L180.0,187.3L181.5,187.2L182.0,187.7L183.5,187.7L184.0,188.2L185.0,188.2L185.5,188.7L186.0,188.7L186.5,189.2L187.5,189.2L188.0,189.7L188.5,189.7L189.0,190.2L189.5,190.2L190.0,190.7L190.5,190.7L191.0,191.2L192.0,191.2L192.5,191.7L193.5,191.7L194.0,192.2L195.0,192.2L195.5,192.7L196.5,192.7L197.0,193.2L198.0,193.2L198.5,193.7L199.5,193.7L200.0,194.2L201.0,194.2L201.5,194.7L203.0,194.7L203.5,195.2L204.5,195.2L205.0,195.7L206.0,195.7L206.5,196.2L208.0,196.2L208.5,196.7L209.5,196.7L210.0,197.2L211.5,197.2L212.0,197.7L213.0,197.7L213.5,198.2L215.0,198.2L215.5,198.7L216.5,198.7L217.0,199.2L218.5,199.2L219.0,199.7L220.5,199.7L221.0,200.2L222.0,200.2L222.5,200.7L224.0,200.7L224.5,201.2L226.0,201.2L226.5,201.7L228.0,201.7L228.5,202.2L230.0,202.2L230.5,202.7L231.5,202.7L232.0,203.2L233.5,203.2L234.0,203.7L235.5,203.7L236.0,204.2L237.5,204.2L238.0,204.7L239.5,204.7L240.0,205.2L241.5,205.2L242.0,205.7L243.5,205.7L244.0,206.2L245.5,206.2L246.0,206.7L247.5,206.7L248.0,207.2L249.5,207.2L250.0,207.7L251.5,207.7L252.0,208.2L253.0,208.2L253.5,208.7L254.5,208.7L255.0,209.2L256.0,209.2L256.5,209.7L257.5,209.7L258.0,210.2L259.0,210.2L259.5,210.7L260.0,210.7L260.5,211.2L261.5,211.2L262.0,211.7L262.5,211.7L263.0,212.2L263.5,212.2L264.0,212.7L265.0,212.7L265.5,213.2L266.0,213.2L266.5,213.7L267.0,213.7L267.5,214.2L268.0,214.2L268.5,214.7L269.0,214.7L270.0,215.6L270.5,215.6L271.0,216.1L271.5,216.1L272.5,217.1L273.0,217.1L274.0,218.1L274.5,218.1L275.0,218.6L275.5,218.6L276.5,219.6L277.0,219.6L278.0,220.6L278.5,220.6L279.0,221.1L279.5,221.1L280.0,221.6L280.5,221.6L281.0,222.1L281.5,222.1L282.0,222.6L282.5,222.6L283.0,223.1L283.5,223.1L284.0,223.6L284.5,223.6L285.0,224.1L285.5,224.1L286.0,224.6L287.0,224.6L287.5,225.1L288.0,225.1L288.5,225.6L289.0,225.6L289.5,226.1L290.0,226.1L290.5,226.6L291.5,226.6L292.0,227.1L292.5,227.1L293.0,227.6L293.5,227.6L294.0,228.1L294.5,228.1L295.0,228.6L296.0,228.7L296.5,229.1L297.0,229.2L297.5,229.6L298.0,229.7L298.5,230.1L299.0,230.2L299.5,230.6L300.0,230.7L300.5,231.2L301.5,231.2L302.0,231.7L302.5,231.7L303.0,232.2L303.5,232.2L304.0,232.7L304.5,232.7L305.0,233.2L306.0,233.2L306.5,233.7L307.0,233.7L307.5,234.2L308.0,234.2L308.5,234.7L309.0,234.7L309.5,235.2L310.5,235.3L311.0,235.7L311.5,235.8L312.0,236.2L312.5,236.3L313.0,236.7L313.5,236.8L314.0,237.2L314.5,237.3L315.0,237.8L316.0,237.8L316.5,238.3L317.0,238.3L317.5,238.8L318.0,238.8L318.5,239.3L319.5,239.4L320.0,239.8L320.5,239.9L321.0,240.3L322.0,240.4L323.5,241.4L324.5,241.4L325.0,241.9L326.0,242.0L326.5,242.4L327.2,242.5L336.7,247.0L340.5,249.1L346.0,253.1L352.0,256.9L356.5,258.9L362.0,261.0L374.0,264.2L389.5,267.9L396.0,269.3L400.0,269.9L400.0,321.2L380.5,306.5L380.4,307.0L400.0,322.9L400.0,324.0L76.0,324.0ZM376.9,304.0L377.2,304.0L377.0,303.9ZM377.4,304.5L377.8,304.5L377.5,304.3ZM378.0,304.7L377.9,305.0L378.5,305.1ZM379.2,305.5L379.0,305.4L378.6,305.5L379.0,305.7ZM379.3,306.0L379.5,306.1L379.8,306.0L379.5,305.8ZM379.8,306.5L380.5,306.5L380.0,306.1Z" fill="#00ff00"/>
<path d="M76.0,139.5L77.0,139.5L77.5,140.0L78.5,140.0L79.0,140.5L80.0,140.5L80.5,141.0L81.0,141.0L81.5,141.5L82.5,141.5L83.0,142.0L84.0,142.0L84.5,142.5L85.5,142.5L86.0,143.0L87.0,143.0L87.5,143.5L88.5,143.5L89.0,144.0L90.0,144.0L90.5,144.5L91.5,144.5L92.0,145.0L93.0,145.0L93.5,145.5L94.5,145.5L95.0,146.0L96.0,146.0L96.5,146.5L97.5,146.5L98.0,147.0L99.0,147.0L99.5,147.5L100.5,147.5L101.0,148.0L102.0,148.0L102.5,148.5L103.5,148.5L104.0,149.0L105.0,149.0L105.5,149.5L106.0,149.5L106.5,150.0L107.5,150.0L108.0,150.5L109.0,150.5L109.5,151.0L110.5,151.0L111.0,151.5L112.0,151.5L112.5,152.0L113.0,152.0L113.5,152.5L114.5,152.5L115.0,153.0L116.0,153.0L116.5,153.5L117.5,153.5L118.0,154.0L118.5,154.0L119.0,154.5L120.0,154.5L120.5,155.0L121.0,155.0L121.5,155.5L122.5,155.5L123.0,156.0L124.0,156.0L124.5,156.5L125.0,156.5L125.5,157.0L126.5,157.0L127.0,157.5L127.5,157.5L128.0,158.0L128.5,158.0L129.0,158.5L130.0,158.5L130.5,159.0L131.0,159.0L131.5,159.5L132.5,159.5L133.0,160.0L133.5,160.0L134.0,160.5L134.5,160.5L135.0,161.0L135.5,161.0L136.0,161.5L137.0,161.5L137.5,162.0L138.0,162.0L138.5,162.5L139.0,162.5L139.5,163.0L140.0,163.0L140.5,163.5L141.0,163.5L141.5,164.0L142.0,164.0L142.5,164.5L143.0,164.5L143.5,165.0L144.0,165.0L144.5,165.5L145.0,165.5L145.5,166.0L146.0,166.0L146.5,166.5L147.0,166.5L147.5,167.0L148.0,167.0L148.5,167.5L149.0,167.5L149.5,168.0L150.0,168.0L150.5,168.5L151.0,168.5L151.5,169.0L152.0,169.0L152.5,169.5L153.0,169.5L153.5,170.0L154.0,170.0L155.0,171.0L155.5,171.0L156.0,171.5L156.5,171.5L157.0,172.0L157.5,172.0L158.5,173.0L159.0,173.0L159.5,173.5L160.0,173.5L161.0,174.4L161.5,174.5L162.0,174.9L162.5,175.0L163.5,175.9L164.0,176.0L164.5,176.4L165.0,176.5L166.0,177.4L166.5,177.5L167.5,178.4L168.0,178.4L169.0,179.4L169.5,179.4L170.5,180.4L171.0,180.4L172.0,181.4L172.5,181.4L174.0,182.9L174.5,182.9L175.5,183.9L176.0,183.9L177.5,185.4L178.0,185.4L180.0,187.4L181.5,187.3L182.0,187.8L183.5,187.8L184.0,188.3L185.0,188.3L185.5,188.8L186.0,188.8L186.5,189.3L187.5,189.3L188.0,189.8L188.5,189.8L189.0,190.3L189.5,190.3L190.0,190.8L190.5,190.8L191.0,191.3L192.0,191.3L192.5,191.8L193.5,191.8L194.0,192.3L195.0,192.3L195.5,192.8L196.5,192.8L197.0,193.3L198.0,193.3L198.5,193.8L199.5,193.8L200.0,194.3L201.0,194.3L201.5,194.8L203.0,194.8L203.5,195.3L204.5,195.3L205.0,195.8L206.0,195.8L206.5,196.3L208.0,196.3L208.5,196.8L209.5,196.8L210.0,197.3L211.5,197.3L212.0,197.8L213.0,197.8L213.5,198.3L215.0,198.3L215.5,198.8L216.5,198.8L217.0,199.3L218.5,199.3L219.0,199.8L220.5,199.8L221.0,200.3L222.0,200.3L222.5,200.8L224.0,200.8L224.5,201.3L226.0,201.3L226.5,201.8L228.0,201.8L228.5,202.3L230.0,202.3L230.5,202.8L231.5,202.8L232.0,203.3L233.5,203.3L234.0,203.8L235.5,203.8L236.0,204.3L237.5,204.3L238.0,204.8L239.5,204.8L240.0,205.3L241.5,205.3L242.0,205.8L243.5,205.8L244.0,206.3L245.5,206.3L246.0,206.8L247.5,206.8L248.0,207.3L249.5,207.3L250.0,207.8L251.5,207.8L252.0,208.3L253.0,208.3L253.5,208.8L254.5,208.8L255.0,209.3L256.0,209.3L256.5,209.8L257.5,209.8L258.0,210.3L259.0,210.3L259.5,210.8L260.0,210.8L260.5,211.3L261.5,211.3L262.0,211.8L262.5,211.8L263.0,212.3L263.5,212.3L264.0,212.8L265.0,212.8L265.5,213.3L266.0,213.3L266.5,213.8L267.0,213.8L267.5,214.3L268.0,214.3L268.5,214.8L269.0,214.7L270.0,215.7L270.5,215.7L271.0,216.2L271.5,216.2L272.5,217.1L273.0,217.1L274.0,218.1L274.5,218.1L275.0,218.6L275.5,218.6L276.5,219.6L277.0,219.6L278.0,220.6L278.5,220.6L279.0,221.1L279.5,221.1L280.0,221.6L280.5,221.6L281.0,222.1L281.5,222.1L282.0,222.6L282.5,222.6L283.0,223.1L283.5,223.1L284.0,223.6L284.5,223.6L285.0,224.1L285.5,224.1L286.0,224.6L287.0,224.7L287.5,225.1L288.0,225.2L288.5,225.6L289.0,225.7L289.5,226.1L290.0,226.2L290.5,226.6L291.5,226.7L292.0,227.2L292.5,227.2L293.0,227.7L293.5,227.7L294.0,228.2L294.5,228.2L295.0,228.7L296.0,228.7L296.5,229.2L297.0,229.2L297.5,229.7L298.0,229.7L298.5,230.2L299.0,230.2L299.5,230.7L300.0,230.7L300.5,231.2L301.5,231.2L302.0,231.7L302.5,231.7L303.0,232.2L303.5,232.2L304.0,232.7L304.5,232.8L305.0,233.2L306.0,233.3L306.5,233.8L307.0,233.8L307.5,234.3L308.0,234.3L308.5,234.8L309.0,234.8L309.5,235.3L310.5,235.3L311.0,235.8L311.5,235.8L312.0,236.3L312.5,236.3L313.0,236.8L313.5,236.8L314.0,237.3L314.5,237.3L315.0,237.8L316.0,237.9L316.5,238.4L317.0,238.4L318.5,239.4L319.5,239.5L321.0,240.4L322.0,240.5L323.5,241.4L324.1,241.5L335.5,247.0L340.0,249.4L346.0,253.9L352.0,257.8L356.5,259.9L362.0,262.0L374.0,265.3L396.0,270.5L400.0,271.1L400.0,295.4L393.0,293.8L387.5,292.4L381.5,290.4L371.0,286.5L369.0,286.1L368.5,286.5L369.0,287.5L370.2,289.0L374.8,293.5L400.0,315.9L400.0,317.3L376.0,299.5L355.0,283.5L343.1,274.0L324.5,261.4L324.0,261.5L332.0,268.6L370.0,299.7L400.0,323.8L400.0,324.0L76.0,324.0Z" fill="#33ff00"/>
<path d="M180.7,187.5L181.6,187.5L181.5,187.7L181.0,187.8ZM181.6,188.0L182.0,187.9L183.5,187.9L184.0,188.4L185.0,188.4L185.5,188.9L186.0,188.9L186.5,189.4L187.5,189.5L188.0,189.9L188.5,189.9L189.0,190.4L189.5,190.4L190.0,190.9L190.5,190.9L191.0,191.4L192.0,191.4L192.5,191.9L193.5,192.0L194.0,192.4L195.0,192.5L195.5,192.9L196.5,192.9L197.0,193.4L198.0,193.4L198.5,193.9L199.5,193.9L200.0,194.4L201.0,194.4L201.5,194.9L203.0,195.0L203.5,195.4L204.5,195.4L205.0,195.9L206.0,195.9L206.5,196.4L208.0,196.5L208.5,196.9L209.5,196.9L210.0,197.4L211.5,197.5L212.0,197.9L213.0,197.9L213.5,198.4L215.0,198.5L215.5,198.9L216.5,198.9L217.0,199.4L218.5,199.5L219.0,199.9L220.5,200.0L221.0,200.4L222.0,200.4L222.5,200.9L224.0,201.0L224.5,201.4L226.0,201.5L226.5,201.9L228.0,202.0L228.5,202.4L230.0,202.5L230.5,202.9L231.5,203.0L232.0,203.4L233.5,203.5L234.0,203.9L235.5,204.0L236.0,204.4L237.5,204.5L238.0,204.9L239.5,205.0L240.0,205.4L241.5,205.5L242.0,205.9L243.5,206.0L244.0,206.4L245.5,206.5L246.0,206.9L247.5,207.0L248.0,207.4L249.5,207.5L250.0,207.9L251.5,208.0L252.0,208.4L253.0,208.4L253.5,208.9L254.5,208.9L255.0,209.4L256.0,209.4L256.5,209.9L257.5,210.0L258.0,210.4L259.0,210.5L259.5,210.9L260.0,210.9L260.5,211.4L261.5,211.5L262.0,211.9L262.5,212.0L263.0,212.4L263.5,212.4L264.0,212.9L265.0,213.0L265.5,213.4L266.0,213.5L266.5,213.9L267.0,214.0L267.5,214.4L268.0,214.4L268.5,214.9L269.0,214.8L270.0,215.8L270.5,215.7L271.0,216.2L271.5,216.2L272.5,217.2L273.0,217.2L274.0,218.2L274.5,218.2L275.0,218.7L275.5,218.7L276.5,219.7L277.0,219.7L278.0,220.7L278.5,220.7L279.0,221.2L279.5,221.2L280.0,221.7L280.5,221.7L281.0,222.2L281.5,222.2L282.0,222.7L282.5,222.7L283.0,223.2L283.5,223.2L284.0,223.7L284.5,223.7L285.0,224.2L285.5,224.2L286.0,224.7L287.0,224.7L287.5,225.2L288.0,225.2L288.5,225.7L289.0,225.7L289.5,226.2L290.0,226.2L290.5,226.7L291.5,226.7L292.0,227.2L292.5,227.2L293.0,227.7L293.5,227.7L294.0,228.2L294.5,228.2L295.0,228.7L296.0,228.8L296.5,229.2L297.0,229.3L297.5,229.7L298.0,229.8L298.5,230.2L299.0,230.3L299.5,230.7L300.0,230.8L300.5,231.2L301.5,231.3L302.0,231.8L302.5,231.8L303.0,232.3L303.5,232.3L304.0,232.8L304.5,232.8L305.0,233.3L306.0,233.3L306.5,233.8L307.0,233.8L307.5,234.3L308.0,234.3L308.5,234.8L309.0,234.8L309.5,235.3L310.5,235.4L311.0,235.8L311.5,235.9L312.0,236.3L312.5,236.4L313.0,236.8L313.5,236.9L314.0,237.4L314.5,237.4L315.0,237.9L316.0,238.0L316.5,238.4L317.0,238.5L318.5,239.4L319.2,239.5L334.3,247.0L340.0,250.1L346.0,254.7L352.0,258.7L355.0,260.2L362.0,262.9L372.5,265.9L396.0,271.7L400.0,272.3L400.0,289.4L389.5,287.2L381.0,284.7L368.5,280.3L357.0,275.5L353.5,274.3L351.5,273.9L350.9,274.0L350.0,274.7L349.0,274.5L331.0,263.4L315.5,253.5L310.5,249.7L302.0,242.5L298.0,240.2L294.0,237.5L288.0,233.8L284.5,231.2L275.5,223.4L275.0,223.4L274.5,222.9L273.5,222.9L273.0,222.4L272.0,222.4L271.5,221.9L270.5,221.9L270.0,221.4L269.0,221.4L268.5,220.9L267.0,220.9L266.5,220.4L265.0,220.4L264.5,219.9L263.0,219.9L262.5,219.4L261.0,219.4L260.5,218.9L259.0,218.9L258.5,218.4L257.5,218.4L257.0,217.9L255.5,217.9L255.0,217.4L254.0,217.4L253.5,216.9L252.5,216.9L252.0,216.4L250.5,216.4L250.0,215.9L249.0,215.9L248.5,215.4L247.5,215.4L247.0,214.9L245.5,214.9L245.0,214.4L244.0,214.4L243.5,213.9L242.5,213.9L242.0,213.4L241.0,213.4L240.5,212.9L239.5,212.9L239.0,212.4L238.0,212.4L237.5,211.9L237.0,211.9L236.5,211.4L235.5,211.4L235.0,210.9L234.5,210.9L234.0,210.4L233.5,210.4L233.0,209.9L232.0,209.9L231.5,209.4L231.0,209.4L230.5,208.9L229.5,208.9L229.0,208.4L228.5,208.4L228.0,207.9L227.5,207.9L227.0,207.4L226.0,207.4L225.5,206.9L225.0,206.9L224.5,206.4L223.5,206.4L223.0,205.9L222.5,205.9L222.0,205.4L221.0,205.4L220.5,204.9L220.0,204.9L219.5,204.4L219.0,204.4L218.5,203.9L217.5,203.9L217.0,203.4L216.5,203.4L216.0,202.9L215.0,202.9L214.5,202.4L214.0,202.4L213.5,201.9L213.0,201.9L212.5,201.4L211.5,201.4L211.0,200.9L210.5,200.9L210.0,200.4L209.5,200.4L209.0,199.9L208.0,199.9L207.5,199.4L207.0,199.4L206.5,198.9L206.0,198.9L205.5,198.4L204.5,198.4L204.0,197.9L203.5,197.9L203.0,197.4L202.5,197.4L202.0,196.9L201.0,196.9L200.5,196.4L200.0,196.4L199.5,195.9L199.0,195.9L198.5,195.4L198.0,195.4L197.5,194.9L196.5,194.9L196.0,194.4L195.5,194.4L195.0,193.9L194.5,193.9L194.0,193.3L193.0,193.4L192.5,192.9L192.0,192.9L191.5,192.3L191.0,192.4L190.5,191.8L190.0,191.9L189.5,191.3L188.5,191.4L188.0,190.9L187.5,190.9L187.0,190.3L186.5,190.4L186.0,189.8L185.5,189.9L185.0,189.3L184.0,189.4L183.5,188.8L183.0,188.9L182.5,188.3L182.0,188.4Z" fill="#66ff00"/>
<path d="M181.9,188.0L182.7,188.0L182.0,188.1ZM182.8,188.5L183.0,188.1L185.3,189.0L184.0,189.2L183.5,188.6L183.0,188.7ZM185.4,189.5L185.5,189.1L186.5,189.5L185.5,189.6ZM186.5,189.5L189.9,191.0L188.5,191.2L188.0,190.6L187.5,190.7L187.0,190.1L186.5,190.1L186.4,190.0ZM190.0,191.1L200.5,195.1L216.5,200.7L238.5,208.0L256.5,213.1L265.0,216.0L269.5,217.8L269.5,217.3L268.3,215.0L269.0,214.9L270.0,215.8L270.5,215.8L271.0,216.3L271.5,216.3L272.5,217.2L273.0,217.2L274.0,218.2L274.5,218.2L275.0,218.7L275.5,218.7L276.5,219.7L277.0,219.7L278.0,220.7L278.5,220.7L279.0,221.2L279.5,221.2L280.0,221.7L280.5,221.7L281.0,222.2L281.5,222.2L282.0,222.7L282.5,222.7L283.0,223.2L283.5,223.2L284.0,223.7L284.5,223.7L285.0,224.2L285.5,224.2L286.0,224.7L287.0,224.8L287.5,225.2L288.0,225.3L288.5,225.7L289.0,225.8L289.5,226.2L290.0,226.3L290.5,226.7L291.5,226.8L292.0,227.2L292.5,227.3L293.0,227.7L293.5,227.8L294.0,228.2L294.5,228.3L295.0,228.7L296.0,228.8L296.5,229.3L297.0,229.3L297.5,229.8L298.0,229.8L298.5,230.3L299.0,230.3L299.5,230.8L300.0,230.8L300.5,231.3L301.5,231.3L302.0,231.8L302.5,231.8L303.0,232.3L303.5,232.4L304.0,232.8L304.5,232.9L305.0,233.3L306.0,233.4L306.5,233.9L307.0,233.9L307.5,234.4L308.0,234.4L308.5,234.9L309.0,234.9L309.5,235.4L310.5,235.4L311.0,235.9L311.5,235.9L312.0,236.4L312.5,236.4L313.0,236.9L313.5,236.9L314.0,237.4L314.5,237.5L315.0,237.9L315.6,238.0L335.1,248.0L340.0,250.8L346.0,255.5L352.0,259.6L355.0,261.1L362.0,263.9L372.5,266.9L396.0,272.9L400.0,273.5L400.0,283.8L393.0,283.0L386.5,281.8L381.0,280.6L375.3,279.0L363.5,275.0L344.0,267.0L337.5,264.7L331.0,261.4L312.5,250.4L310.5,249.0L302.0,242.0L299.0,240.2L294.0,236.7L286.5,232.2L282.0,228.8L276.6,224.0L276.0,223.8L275.5,223.3L275.0,223.3L274.5,222.8L273.5,222.7L273.0,222.1L272.0,222.2L271.5,221.6L270.5,221.7L270.0,221.2L269.0,221.2L268.5,220.7L267.0,220.7L266.5,220.2L265.0,220.2L264.5,219.7L263.0,219.7L262.5,219.2L261.0,219.2L260.5,218.7L259.0,218.7L258.5,218.2L257.5,218.2L257.0,217.7L255.5,217.7L255.0,217.2L254.0,217.2L253.5,216.7L252.5,216.7L252.0,216.2L250.5,216.2L250.0,215.7L249.0,215.7L248.5,215.2L247.5,215.2L247.0,214.7L245.5,214.7L245.0,214.2L244.0,214.2L243.5,213.7L242.5,213.7L242.0,213.2L241.0,213.2L240.5,212.7L239.5,212.7L239.0,212.2L238.0,212.2L237.5,211.7L237.0,211.7L236.5,211.2L235.5,211.2L235.0,210.7L234.5,210.7L234.0,210.2L233.5,210.2L233.0,209.7L232.0,209.7L231.5,209.2L231.0,209.2L230.5,208.7L229.5,208.7L229.0,208.2L228.5,208.2L228.0,207.7L227.5,207.7L227.0,207.1L226.0,207.2L225.5,206.7L225.0,206.7L224.5,206.1L223.5,206.2L223.0,205.7L222.5,205.7L222.0,205.1L221.0,205.2L220.5,204.7L220.0,204.7L219.5,204.1L219.0,204.2L218.5,203.6L217.5,203.7L217.0,203.1L216.5,203.2L216.0,202.6L215.0,202.7L214.5,202.1L214.0,202.2L213.5,201.6L213.0,201.7L212.5,201.1L211.5,201.2L211.0,200.6L210.5,200.7L210.0,200.1L209.5,200.2L209.0,199.6L208.0,199.7L207.5,199.1L207.0,199.2L206.5,198.6L206.0,198.7L205.5,198.1L204.5,198.2L204.0,197.6L203.5,197.7L203.0,197.1L202.5,197.2L202.0,196.6L201.0,196.7L200.5,196.1L200.0,196.2L199.5,195.6L199.0,195.7L198.5,195.1L198.0,195.1L197.5,194.6L196.5,194.7L196.0,194.1L195.5,194.2L195.0,193.6L194.5,193.6L194.0,193.1L193.0,193.2L192.5,192.6L192.0,192.7L191.5,192.1L191.0,192.1L190.5,191.6L190.0,191.6L189.9,191.5Z" fill="#99ff00"/>
<path d="M269.1,215.5L269.5,215.4L270.0,215.9L270.5,215.9L271.0,216.3L271.5,216.3L272.5,217.3L273.0,217.3L274.0,218.3L274.5,218.3L275.0,218.8L275.5,218.8L276.5,219.8L277.0,219.8L278.0,220.7L278.5,220.8L279.0,221.3L279.5,221.3L280.0,221.8L280.5,221.8L281.0,222.3L281.5,222.3L282.0,222.8L282.5,222.8L283.0,223.3L283.5,223.3L284.0,223.8L284.5,223.8L285.0,224.2L285.5,224.3L286.0,224.7L287.0,224.8L288.5,225.8L289.0,225.8L289.5,226.3L290.0,226.3L290.5,226.8L291.5,226.8L293.0,227.8L293.5,227.8L294.0,228.3L294.5,228.3L295.0,228.8L296.0,228.9L296.5,229.3L297.0,229.4L297.5,229.8L298.0,229.9L298.5,230.3L299.0,230.4L299.5,230.8L300.0,230.9L300.5,231.3L301.5,231.4L302.0,231.9L302.5,231.9L303.0,232.4L303.5,232.4L304.0,232.9L304.5,232.9L305.0,233.4L306.0,233.4L306.5,233.9L307.0,233.9L307.5,234.4L308.0,234.4L308.5,234.9L309.0,234.9L309.5,235.4L310.5,235.5L311.0,235.9L311.5,236.0L312.0,236.4L312.5,236.5L313.0,236.9L313.5,237.0L314.0,237.5L320.0,240.8L334.1,248.0L340.0,251.5L346.0,256.4L352.0,260.5L355.0,262.0L360.5,264.3L364.0,265.5L374.0,268.4L385.6,271.5L390.0,273.3L400.0,276.9L400.0,278.1L399.0,278.2L398.5,277.6L397.0,277.7L396.5,277.2L395.0,277.2L394.5,276.7L393.0,276.8L392.5,276.3L391.0,276.3L390.5,275.8L389.0,275.8L388.5,275.3L387.5,275.4L387.0,274.9L385.5,274.9L385.0,274.4L384.0,274.4L383.5,274.0L382.5,274.0L382.0,273.7L378.5,274.0L374.5,273.8L369.9,273.0L363.5,271.5L358.5,270.0L353.0,268.1L344.0,264.5L335.5,261.5L331.0,259.6L315.5,251.2L311.0,248.6L308.0,246.5L302.0,241.7L295.0,236.7L287.0,232.1L284.0,230.1L281.0,227.8L276.8,224.0L276.0,223.7L275.5,223.2L275.0,223.1L274.5,222.6L273.8,222.5L271.2,219.0Z" fill="#ccff00"/>
<path d="M269.8,216.0L270.5,215.9L271.0,216.4L271.5,216.4L272.5,217.3L273.0,217.3L274.0,218.3L274.5,218.3L275.0,218.8L275.5,218.9L276.5,219.8L277.0,219.8L278.0,220.8L278.5,220.8L279.0,221.3L279.5,221.3L280.0,221.8L280.5,221.8L281.0,222.3L281.5,222.3L282.0,222.8L282.5,222.8L283.0,223.3L283.5,223.3L284.0,223.8L284.5,223.8L285.0,224.3L285.5,224.3L286.0,224.8L287.0,224.9L288.5,225.8L289.0,225.9L289.5,226.3L290.0,226.3L290.5,226.8L291.5,226.9L293.0,227.8L293.5,227.9L294.0,228.3L294.5,228.4L295.0,228.8L296.0,228.9L297.5,229.9L298.0,229.9L298.5,230.4L299.0,230.4L299.5,230.9L300.0,230.9L300.5,231.4L301.5,231.4L302.0,231.9L302.5,231.9L303.0,232.4L303.5,232.4L304.0,232.9L304.5,233.0L305.0,233.4L306.0,233.5L306.5,234.0L307.0,234.0L307.5,234.5L308.0,234.5L308.5,235.0L309.0,235.0L309.5,235.5L310.0,235.5L313.0,237.0L315.0,238.5L319.5,241.0L333.0,248.0L339.7,252.0L346.0,257.2L352.0,261.4L356.3,263.5L356.0,263.9L355.5,264.0L349.3,263.0L340.2,260.5L333.9,258.5L327.5,256.0L312.5,248.6L310.5,247.4L307.0,245.0L294.5,235.7L290.5,233.3L285.0,230.5L282.5,228.7L277.0,224.0L275.1,223.0L274.5,222.4L271.6,219.0ZM356.5,264.0L357.0,263.8L357.4,264.0L357.0,264.4ZM357.6,264.5L358.0,264.2L358.7,264.5L358.0,264.9ZM359.2,265.0L359.5,264.8L359.9,265.0L359.5,265.3ZM360.2,265.5L360.5,265.2L361.2,265.5L360.5,265.8ZM361.8,266.0L362.0,265.8L364.2,266.5L363.0,266.8L362.5,266.0L362.0,266.2ZM364.2,267.0L364.5,266.6L365.8,267.0L364.5,267.2ZM365.8,267.5L366.0,267.1L370.6,268.5L372.4,269.5L371.0,269.6L370.5,269.1L370.0,269.1L369.5,268.6L368.5,268.6L368.0,268.1L367.0,268.2L366.5,267.7L366.0,267.7ZM372.5,269.5L373.3,270.0L372.5,270.0Z" fill="#ffff00"/>
<path d="M270.4,216.0L271.0,216.4L271.5,216.4L272.5,217.4L273.0,217.4L274.0,218.3L274.5,218.4L275.0,218.9L275.5,218.9L276.5,219.8L277.0,219.9L278.0,220.8L278.5,220.9L279.0,221.3L279.5,221.4L280.0,221.8L280.5,221.9L281.0,222.3L281.5,222.4L282.0,222.8L282.5,222.9L283.0,223.3L283.5,223.4L284.0,223.8L284.5,223.9L285.0,224.3L285.5,224.4L286.0,224.8L287.0,224.9L288.5,225.9L289.0,225.9L289.5,226.3L290.0,226.4L290.5,226.8L291.5,226.9L293.0,227.9L293.5,227.9L294.0,228.4L294.5,228.4L295.0,228.9L296.0,228.9L297.5,229.9L298.0,229.9L298.5,230.4L299.0,230.4L299.5,230.9L300.0,231.0L300.5,231.4L301.5,231.5L302.0,232.0L302.5,232.0L303.0,232.5L303.5,232.5L304.0,233.0L304.5,233.0L305.0,233.5L305.4,233.5L312.7,237.5L324.7,244.5L331.0,249.0L347.8,260.0L347.0,260.1L346.5,259.5L346.0,259.6L345.5,259.1L345.0,259.1L344.5,258.6L344.0,258.6L343.5,258.1L342.5,258.2L342.0,257.7L341.5,257.7L341.0,257.2L340.5,257.3L340.0,256.8L339.0,256.8L338.5,256.3L338.0,256.3L337.5,255.9L337.0,255.9L336.5,255.4L336.0,255.4L335.5,255.0L334.5,255.0L334.0,254.6L328.5,253.7L324.5,252.5L314.5,248.5L310.5,246.6L306.0,243.5L294.0,234.7L289.5,232.1L284.0,229.4L282.0,228.1L277.3,224.0L276.0,223.3L274.0,221.5L271.6,218.5L270.7,217.0Z" fill="#ffd400"/>
<path d="M271.1,216.5L271.5,216.5L272.5,217.4L273.0,217.4L274.0,218.4L274.5,218.4L275.0,218.9L275.5,219.0L276.5,219.9L277.0,219.9L278.0,220.9L278.5,220.9L279.0,221.4L279.5,221.4L280.0,221.9L280.5,221.9L281.0,222.4L281.5,222.4L283.0,223.4L283.5,223.4L284.0,223.9L284.5,223.9L285.0,224.4L285.5,224.4L286.0,224.9L287.0,225.0L288.5,225.9L289.0,225.9L289.5,226.4L290.0,226.4L290.5,226.9L291.5,227.0L293.0,227.9L293.5,228.0L294.0,228.4L294.5,228.4L295.0,228.9L296.0,229.0L296.5,229.4L297.0,229.5L297.5,229.9L298.0,230.0L298.5,230.4L299.0,230.5L299.5,231.0L300.0,231.0L300.5,231.5L301.0,231.5L305.6,234.0L312.2,238.0L315.2,240.0L319.1,243.0L320.7,244.5L321.2,245.5L321.0,245.8L320.5,245.8L319.5,245.6L315.0,244.0L311.0,242.1L310.9,242.5L311.5,243.2L312.0,243.1L312.5,243.7L313.0,243.6L313.5,244.2L314.0,244.2L314.5,244.7L315.0,244.7L315.5,245.3L316.0,245.2L317.0,246.4L317.5,246.4L318.0,246.9L318.5,246.9L319.0,247.4L319.5,247.4L320.0,248.0L320.5,248.1L319.0,247.9L314.5,247.0L310.5,245.5L305.2,242.0L294.0,233.9L289.5,231.4L281.7,227.5L278.5,225.0L277.6,224.0L276.0,223.0L274.3,221.5L271.9,218.5L271.1,217.0ZM305.4,239.5L305.8,239.5L305.5,239.3ZM307.9,241.0L308.0,241.1L308.6,241.0L308.0,240.7ZM308.9,241.5L309.0,241.6L309.7,241.5L309.0,241.2ZM309.9,242.0L310.0,242.1L310.7,242.0L310.0,241.6Z" fill="#ffaa00"/>
<path d="M272.0,217.0L272.5,217.5L273.0,217.5L274.0,218.4L274.5,218.5L275.0,218.9L275.4,219.0L276.5,219.9L277.0,220.0L278.0,220.9L278.5,221.0L279.0,221.4L279.5,221.5L280.0,221.9L280.5,222.0L281.0,222.4L281.5,222.5L283.0,223.4L283.5,223.5L284.0,223.9L284.5,224.0L285.0,224.4L285.5,224.5L286.0,224.9L286.8,225.0L288.5,225.9L289.0,226.0L289.5,226.4L290.0,226.5L290.5,226.9L291.3,227.0L293.0,227.9L293.5,228.0L294.0,228.4L294.5,228.5L295.0,228.9L295.6,229.0L302.2,232.5L308.0,236.0L312.6,239.5L313.9,241.0L314.0,241.5L313.5,241.8L311.9,241.5L307.9,240.0L303.5,237.7L303.2,238.0L304.0,238.9L304.5,238.7L305.5,239.9L306.0,239.8L306.5,240.4L307.0,240.3L308.0,241.4L308.5,241.3L309.0,241.9L309.5,241.8L310.0,242.4L310.5,242.3L311.5,243.4L312.0,243.4L312.5,244.0L313.0,244.0L313.0,244.4L310.5,244.1L304.1,240.0L294.0,232.8L288.5,229.8L280.0,225.9L278.3,224.5L278.0,224.0L276.0,222.7L274.2,221.0L272.0,218.0L271.8,217.5ZM299.5,235.3L299.2,235.5L299.5,235.8L299.8,235.5ZM301.0,236.2L300.7,236.5L301.0,236.8L301.4,236.5ZM301.8,237.0L302.5,237.8L303.1,237.5L302.0,236.9Z" fill="#ff8000"/>
<path d="M272.5,217.9L273.0,217.8L273.5,218.0L278.0,221.0L278.3,221.0L282.0,223.0L285.4,224.5L286.0,225.0L286.5,225.0L294.2,228.5L299.9,231.5L303.9,234.0L307.4,236.5L308.9,238.0L309.2,238.5L309.2,239.0L308.5,239.1L307.6,239.0L305.0,238.0L298.0,234.2L294.0,231.4L293.5,231.3L293.0,230.9L292.5,230.8L292.0,230.3L287.5,228.3L287.0,227.8L286.5,227.8L286.0,227.4L285.5,227.3L285.0,227.0L283.0,226.3L282.5,225.9L282.0,225.8L278.5,224.2L276.1,222.5L274.5,221.0L272.9,219.0Z" fill="#ff5500"/>
<path d="M273.4,218.5L274.5,218.9L281.0,222.6L293.7,228.5L297.5,230.5L300.9,232.5L303.7,234.5L305.3,236.0L305.7,236.5L305.7,237.0L304.5,236.9L302.0,236.0L299.2,234.5L294.0,231.2L287.0,227.6L278.7,224.0L276.4,222.5L274.8,221.0L273.3,219.0Z" fill="#ff2a00"/>
<path d="M274.2,219.5L274.5,219.4L280.5,222.6L296.1,230.0L300.7,233.0L301.9,234.0L302.4,235.0L301.5,235.0L300.0,234.5L291.0,229.3L279.2,224.0L276.2,222.0L274.7,220.5Z" fill="#ff0000"/>
<path d="M275.4,220.5L276.0,220.6L281.0,223.2L294.4,229.5L296.9,231.0L298.8,232.5L298.5,232.8L297.5,232.5L289.5,228.2L278.8,223.5L276.6,222.0Z" fill="#ff0000"/>
</g>
</g>
<g clip-path="url(#cpA)" fill="none" stroke="#06140a" stroke-width="0.8">
<polyline points="49.5,187.2 175.0,187.2 176.0,187.2 178.2,187.2 180.5,187.3 182.7,187.7 184.9,188.4 187.2,189.3 189.4,190.3 191.6,191.3 193.9,192.1 196.1,192.8 198.3,193.5 200.6,194.2 202.8,194.9 205.0,195.6 207.3,196.2 209.5,196.9 211.7,197.5 213.9,198.2 216.2,198.8 218.4,199.4 220.6,200.0 222.9,200.6 225.1,201.2 227.3,201.8 229.6,202.4 231.8,203.0 234.0,203.6 236.3,204.1 238.5,204.7 240.7,205.3 243.0,205.8 245.2,206.4 247.4,206.9 249.7,207.4 251.9,208.1 254.1,208.7 256.4,209.5 258.6,210.3 260.8,211.2 263.1,212.1 265.3,213.1 267.5,214.2 269.8,215.4 272.0,216.7 274.2,218.2 276.5,219.6 278.7,220.9 280.9,222.1 283.2,223.2 285.4,224.2 287.6,225.2 289.8,226.2 292.1,227.2 294.3,228.2 296.5,229.2 298.8,230.2 301.0,231.2 303.2,232.2 305.5,233.2 307.7,234.2 309.9,235.2 312.2,236.2 314.4,237.3 316.6,238.3 318.9,239.2 321.1,240.1 323.3,241.0 325.6,241.8 327.8,242.5 330.0,243.2 332.3,243.9 334.5,244.6 336.7,245.3 339.0,246.0 341.2,246.7 343.4,247.4 345.7,248.2 347.9,248.9 350.1,249.7 352.4,250.4 354.6,251.1 356.8,251.8 359.1,252.4 361.3,253.0 363.5,253.6 365.7,254.1 368.0,254.6 370.2,255.1 372.4,255.6 374.7,256.0 376.9,256.5 379.1,256.9 381.4,257.3 383.6,257.7 385.8,258.2 388.1,258.5 390.3,258.9 392.5,259.3 394.8,259.6 397.0,260.0"/>
<polyline points="49.5,212.3 238.4,212.3 239.0,212.5 240.6,213.0 242.2,213.5 243.8,214.0 245.4,214.5 247.0,215.0 248.6,215.5 250.2,216.0 251.8,216.4 253.4,216.9 255.0,217.4 256.6,217.8 258.2,218.3 259.7,218.7 261.3,219.1 262.9,219.5 264.5,219.9 266.1,220.3 267.7,220.8 269.3,221.3 270.9,221.8 272.5,222.3 274.1,222.8 275.7,223.4 277.3,224.0 278.9,224.6 280.5,225.3 282.1,225.9 283.7,226.6 285.3,227.3 286.9,228.0 288.5,228.7 290.1,229.5 291.7,230.3 293.3,231.2 294.9,232.2 296.5,233.3 298.1,234.5 299.6,235.6 301.2,236.7 302.8,237.8 304.4,238.8 306.0,239.9 307.6,240.8 309.2,241.8 310.8,242.7 312.4,243.6 314.0,244.4 315.6,245.3 317.2,246.1 318.8,246.9 320.4,247.7 322.0,248.5 323.6,249.3 325.2,250.1 326.8,250.9 328.4,251.7 330.0,252.4 331.6,253.2 333.2,253.9 334.8,254.6 336.4,255.3 337.9,256.1 339.5,256.8 341.1,257.5 342.7,258.2 344.3,258.9 345.9,259.5 347.5,260.2 349.1,260.9 350.7,261.6 352.3,262.2 353.9,262.9 355.5,263.5 357.1,264.2 358.7,264.8 360.3,265.5 361.9,266.1 363.5,266.7 365.1,267.3 366.7,267.9 368.3,268.5 369.9,269.1 371.5,269.7 373.1,270.3 374.7,270.8 376.3,271.4 377.8,272.0 379.4,272.5 381.0,273.1 382.6,273.6 384.2,274.1 385.8,274.6 387.4,275.1 389.0,275.5 390.6,276.0 392.2,276.4 393.8,276.8 395.4,277.2 397.0,277.6"/>
</g>
<path d="M64.0,135.9 L65.8,136.0 L67.6,136.6 L69.4,136.9 L71.2,137.2 L73.0,137.6 M80.2,139.1 L82.0,139.6 L83.8,140.0 L85.6,140.5 L87.4,141.0 L89.2,141.5 M96.4,143.6 L98.2,144.1 L100.0,144.7 L101.8,145.3 L103.6,145.8 L105.4,146.4 M112.6,148.9 L114.4,149.5 L116.2,150.2 L118.0,150.8 L119.8,151.5 L121.6,152.2 M128.8,154.9 L130.6,155.6 L132.4,156.3 L134.2,157.0 L136.0,157.7 L137.8,158.4 M145.0,161.2 L146.8,161.9 L148.6,162.6 L150.4,163.3 L152.2,164.0 L154.0,164.7 M161.2,167.6 L163.0,168.3 L164.8,169.0 L166.6,169.7 L168.4,170.4 L170.2,171.1 M177.4,173.8 L179.2,174.5 L181.0,175.2 L182.8,175.9 L184.6,176.6 L186.4,177.2 M193.6,179.9 L195.4,180.5 L197.2,181.2 L199.0,181.8 L200.8,182.4 L202.6,183.1 M209.8,185.5 L211.6,186.1 L213.4,186.7 L215.2,187.3 L217.0,187.9 L218.8,188.5 M226.0,190.7 L227.8,191.3 L229.6,191.8 L231.4,192.3 L233.2,192.9 L235.0,193.4 M242.2,195.5 L244.0,195.9 L245.8,196.4 L247.6,196.9 L249.4,197.4 L251.2,197.9 M258.4,200.4 L260.2,201.6 L262.0,202.8 L263.8,204.0 L265.6,205.3 L267.4,206.5 M274.6,211.1 L276.4,212.2 L278.2,213.3 L280.0,214.3 L281.8,215.4 L283.6,216.5 M290.8,220.7 L292.6,221.7 L294.4,222.7 L296.2,223.7 L298.0,224.6 L299.8,225.5 M307.0,228.8 L308.8,229.5 L310.6,230.3 L312.4,231.0 L314.2,231.7 L316.0,232.5 M323.2,235.3 L325.0,236.0 L326.8,236.6 L328.6,237.3 L330.4,238.0 L332.2,238.6 M339.4,241.3 L340.2,241.6 L341.1,241.9 L341.9,242.2 L342.8,242.5 L343.6,242.8" fill="none" stroke="#c0183a" stroke-width="1.25"/>
<path d="M226.5,48.3 L226.8,56.8 M227.4,64.9 L228.4,72.8 M229.4,81.2 L230.1,89.0 M230.9,96.9 L232.2,105.5 M234.2,113.3 L235.6,122.1 M237.1,129.5 L238.6,137.8 M240.1,145.7 L243.0,154.6 M245.1,162.5 L248.9,170.8 M252.3,179.3 L256.1,186.3 M262.8,194.8 L266.8,197.7 L270.9,199.9 M279.1,203.3 L283.0,204.4 L286.8,205.2 M296.0,207.8 L300.0,207.5 L303.6,206.4" fill="none" stroke="#000" stroke-width="1.4"/>
<path d="M226.3,47.6 L230.0,48.7 L233.1,51.2 M238.4,59.7 L245.6,67.6 M252.2,74.4 L260.1,77.5 M268.6,85.0 L277.2,90.4 M285.8,96.0 L289.5,97.6 L292.7,97.9 M301.6,101.8 L304.8,104.2" fill="none" stroke="#fff" stroke-width="1.2"/>
<circle cx="235.8" cy="55.5" r="0.85" fill="#fff"/><circle cx="247.9" cy="71.5" r="0.85" fill="#fff"/><circle cx="264.7" cy="81.0" r="0.85" fill="#fff"/><circle cx="281.1" cy="92.3" r="0.85" fill="#fff"/><circle cx="297.6" cy="99.4" r="0.85" fill="#fff"/>
<text transform="translate(152.2,160.9) rotate(20.0)" font-size="10.6" fill="#c0183a" stroke="#c0183a" stroke-width="0.2">RAF</text>
<text transform="translate(241.2,59.6) rotate(29.8)" font-size="10.4" fill="#fff" >Critical surface</text>
<text transform="translate(237.2,114.3) rotate(80.0)" font-size="10.6" fill="#000" stroke="#000" stroke-width="0.2">SEH</text>
<text transform="translate(274.9,197.5) rotate(19.0)" font-size="10.8" fill="#000" stroke="#000" stroke-width="0.15">CWF</text>
<text transform="translate(275.8,212.9) rotate(21.0)" font-size="10.8" fill="#000" stroke="#000" stroke-width="0.15">Plateau</text>
<text transform="translate(260.7,270.0) rotate(31.3)" font-size="10.8" fill="#000" stroke="#000" stroke-width="0.15">Shocks</text>
<text x="62.6" y="183.3" font-size="10.3">CH</text>
<text x="64.2" y="207.2" font-size="10.3">Al</text>
<text x="62.0" y="227.1" font-size="10.3">SiO<tspan font-size="6.5" dy="2.4">2</tspan></text>
<line x1="274.2" y1="268.5" x2="279.7" y2="238.7" stroke="#000" stroke-width="0.9"/>
<polygon points="280.8,232.6 281.3,240.0 277.7,239.4" fill="#000"/>
<line x1="278.3" y1="270.3" x2="316.9" y2="264.3" stroke="#000" stroke-width="0.9"/>
<polygon points="323.0,263.4 316.2,266.3 315.6,262.7" fill="#000"/>
<line x1="398.5" y1="276.9" x2="395.1" y2="276.8" stroke="#000" stroke-width="0.9"/>
<polygon points="388.6,276.6 396.2,275.0 396.0,278.6" fill="#000"/>
<rect x="339.4" y="49.4" width="49.6" height="168.5" fill="#fff" stroke="#5a5a5a" stroke-width="0.75"/>
<text x="366.0" y="58.8" font-size="8.5" font-weight="bold" text-anchor="middle">Density</text>
<text x="365.0" y="67.7" font-size="8.5" font-weight="bold" text-anchor="middle">(g/cm<tspan font-size="5.0" dy="-3.6" dx="0.3">3</tspan><tspan dy="3.6" dx="0.5">)</tspan></text>
<rect x="346.0" y="204.0" width="12.8" height="3.0" fill="#0000fe"/>
<rect x="346.0" y="197.50" width="12.8" height="6.80" fill="#0066ff"/>
<rect x="346.0" y="191.00" width="12.8" height="6.80" fill="#00c8ff"/>
<rect x="346.0" y="184.50" width="12.8" height="6.80" fill="#00ffff"/>
<rect x="346.0" y="178.00" width="12.8" height="6.80" fill="#00ffcc"/>
<rect x="346.0" y="171.50" width="12.8" height="6.80" fill="#00ff99"/>
<rect x="346.0" y="165.00" width="12.8" height="6.80" fill="#00ff66"/>
<rect x="346.0" y="158.50" width="12.8" height="6.80" fill="#00ff33"/>
<rect x="346.0" y="152.00" width="12.8" height="6.80" fill="#00ff10"/>
<rect x="346.0" y="145.50" width="12.8" height="6.80" fill="#00ff00"/>
<rect x="346.0" y="139.00" width="12.8" height="6.80" fill="#33ff00"/>
<rect x="346.0" y="132.50" width="12.8" height="6.80" fill="#66ff00"/>
<rect x="346.0" y="126.00" width="12.8" height="6.80" fill="#99ff00"/>
<rect x="346.0" y="119.50" width="12.8" height="6.80" fill="#ccff00"/>
<rect x="346.0" y="113.00" width="12.8" height="6.80" fill="#ffff00"/>
<rect x="346.0" y="106.50" width="12.8" height="6.80" fill="#ffd400"/>
<rect x="346.0" y="100.00" width="12.8" height="6.80" fill="#ffaa00"/>
<rect x="346.0" y="93.50" width="12.8" height="6.80" fill="#ff8000"/>
<rect x="346.0" y="87.00" width="12.8" height="6.80" fill="#ff5500"/>
<rect x="346.0" y="80.50" width="12.8" height="6.80" fill="#ff2a00"/>
<rect x="346.0" y="74.00" width="12.8" height="6.80" fill="#ff0000"/>
<rect x="346.0" y="70.80" width="12.8" height="3.50" fill="#ff0000"/>
<text x="381.8" y="208.3" font-size="8.5" text-anchor="end" fill="#111" stroke="#111" stroke-width="0.16">0.0</text>
<text x="381.8" y="195.4" font-size="8.5" text-anchor="end" fill="#111" stroke="#111" stroke-width="0.16">2.0</text>
<text x="381.8" y="182.5" font-size="8.5" text-anchor="end" fill="#111" stroke="#111" stroke-width="0.16">4.0</text>
<text x="381.8" y="169.6" font-size="8.5" text-anchor="end" fill="#111" stroke="#111" stroke-width="0.16">6.0</text>
<text x="381.8" y="156.7" font-size="8.5" text-anchor="end" fill="#111" stroke="#111" stroke-width="0.16">8.0</text>
<text x="381.8" y="143.8" font-size="8.5" text-anchor="end" fill="#111" stroke="#111" stroke-width="0.16">10.0</text>
<text x="381.8" y="130.8" font-size="8.5" text-anchor="end" fill="#111" stroke="#111" stroke-width="0.16">12.0</text>
<text x="381.8" y="117.9" font-size="8.5" text-anchor="end" fill="#111" stroke="#111" stroke-width="0.16">14.0</text>
<text x="381.8" y="105.0" font-size="8.5" text-anchor="end" fill="#111" stroke="#111" stroke-width="0.16">16.0</text>
<text x="381.8" y="92.1" font-size="8.5" text-anchor="end" fill="#111" stroke="#111" stroke-width="0.16">18.0</text>
<text x="381.8" y="79.2" font-size="8.5" text-anchor="end" fill="#111" stroke="#111" stroke-width="0.16">20.0</text>
<rect x="49.6" y="22.3" width="347.4" height="317.0" fill="none" stroke="#000" stroke-width="1.4"/>
<g stroke="#000" fill="none"><path d="M63.50,339.3 v-4.3 M63.50,22.3 v4.3" stroke-width="0.7"/><path d="M77.40,339.3 v-4.3 M77.40,22.3 v4.3" stroke-width="0.7"/><path d="M91.30,339.3 v-4.3 M91.30,22.3 v4.3" stroke-width="0.7"/><path d="M105.20,339.3 v-4.3 M105.20,22.3 v4.3" stroke-width="0.7"/><path d="M119.10,339.3 v-8.0 M119.10,22.3 v8.0" stroke-width="1.3"/><path d="M133.00,339.3 v-4.3 M133.00,22.3 v4.3" stroke-width="0.7"/><path d="M146.90,339.3 v-4.3 M146.90,22.3 v4.3" stroke-width="0.7"/><path d="M160.80,339.3 v-4.3 M160.80,22.3 v4.3" stroke-width="0.7"/><path d="M174.70,339.3 v-4.3 M174.70,22.3 v4.3" stroke-width="0.7"/><path d="M188.60,339.3 v-8.0 M188.60,22.3 v8.0" stroke-width="1.3"/><path d="M202.50,339.3 v-4.3 M202.50,22.3 v4.3" stroke-width="0.7"/><path d="M216.40,339.3 v-4.3 M216.40,22.3 v4.3" stroke-width="0.7"/><path d="M230.30,339.3 v-4.3 M230.30,22.3 v4.3" stroke-width="0.7"/><path d="M244.20,339.3 v-4.3 M244.20,22.3 v4.3" stroke-width="0.7"/><path d="M258.10,339.3 v-8.0 M258.10,22.3 v8.0" stroke-width="1.3"/><path d="M272.00,339.3 v-4.3 M272.00,22.3 v4.3" stroke-width="0.7"/><path d="M285.90,339.3 v-4.3 M285.90,22.3 v4.3" stroke-width="0.7"/><path d="M299.80,339.3 v-4.3 M299.80,22.3 v4.3" stroke-width="0.7"/><path d="M313.70,339.3 v-4.3 M313.70,22.3 v4.3" stroke-width="0.7"/><path d="M327.60,339.3 v-8.0 M327.60,22.3 v8.0" stroke-width="1.3"/><path d="M341.50,339.3 v-4.3 M341.50,22.3 v4.3" stroke-width="0.7"/><path d="M355.40,339.3 v-4.3 M355.40,22.3 v4.3" stroke-width="0.7"/><path d="M369.30,339.3 v-4.3 M369.30,22.3 v4.3" stroke-width="0.7"/><path d="M383.20,339.3 v-4.3 M383.20,22.3 v4.3" stroke-width="0.7"/><path d="M49.6,326.62 h4.3 M397.0,326.62 h-4.3" stroke-width="0.7"/><path d="M49.6,313.94 h4.3 M397.0,313.94 h-4.3" stroke-width="0.7"/><path d="M49.6,301.26 h4.3 M397.0,301.26 h-4.3" stroke-width="0.7"/><path d="M49.6,288.58 h4.3 M397.0,288.58 h-4.3" stroke-width="0.7"/><path d="M49.6,275.90 h8.0 M397.0,275.90 h-8.0" stroke-width="1.3"/><path d="M49.6,263.22 h4.3 M397.0,263.22 h-4.3" stroke-width="0.7"/><path d="M49.6,250.54 h4.3 M397.0,250.54 h-4.3" stroke-width="0.7"/><path d="M49.6,237.86 h4.3 M397.0,237.86 h-4.3" stroke-width="0.7"/><path d="M49.6,225.18 h4.3 M397.0,225.18 h-4.3" stroke-width="0.7"/><path d="M49.6,212.50 h8.0 M397.0,212.50 h-8.0" stroke-width="1.3"/><path d="M49.6,199.82 h4.3 M397.0,199.82 h-4.3" stroke-width="0.7"/><path d="M49.6,187.14 h4.3 M397.0,187.14 h-4.3" stroke-width="0.7"/><path d="M49.6,174.46 h4.3 M397.0,174.46 h-4.3" stroke-width="0.7"/><path d="M49.6,161.78 h4.3 M397.0,161.78 h-4.3" stroke-width="0.7"/><path d="M49.6,149.10 h8.0 M397.0,149.10 h-8.0" stroke-width="1.3"/><path d="M49.6,136.42 h4.3 M397.0,136.42 h-4.3" stroke-width="0.7"/><path d="M49.6,123.74 h4.3 M397.0,123.74 h-4.3" stroke-width="0.7"/><path d="M49.6,111.06 h4.3 M397.0,111.06 h-4.3" stroke-width="0.7"/><path d="M49.6,98.38 h4.3 M397.0,98.38 h-4.3" stroke-width="0.7"/><path d="M49.6,85.70 h8.0 M397.0,85.70 h-8.0" stroke-width="1.3"/><path d="M49.6,73.02 h4.3 M397.0,73.02 h-4.3" stroke-width="0.7"/><path d="M49.6,60.34 h4.3 M397.0,60.34 h-4.3" stroke-width="0.7"/><path d="M49.6,47.66 h4.3 M397.0,47.66 h-4.3" stroke-width="0.7"/><path d="M49.6,34.98 h4.3 M397.0,34.98 h-4.3" stroke-width="0.7"/></g>
<text x="49.6" y="351.7" font-size="12.0" text-anchor="middle" fill="#111" stroke="#111" stroke-width="0.16">0</text>
<text x="119.1" y="351.7" font-size="12.0" text-anchor="middle" fill="#111" stroke="#111" stroke-width="0.16">1</text>
<text x="188.6" y="351.7" font-size="12.0" text-anchor="middle" fill="#111" stroke="#111" stroke-width="0.16">2</text>
<text x="258.1" y="351.7" font-size="12.0" text-anchor="middle" fill="#111" stroke="#111" stroke-width="0.16">3</text>
<text x="327.6" y="351.7" font-size="12.0" text-anchor="middle" fill="#111" stroke="#111" stroke-width="0.16">4</text>
<text x="397.1" y="351.7" font-size="12.0" text-anchor="middle" fill="#111" stroke="#111" stroke-width="0.16">5</text>
<text x="44.4" y="343.7" font-size="12.0" text-anchor="end" fill="#111" stroke="#111" stroke-width="0.16">300</text>
<text x="44.4" y="281.1" font-size="12.0" text-anchor="end" fill="#111" stroke="#111" stroke-width="0.16">400</text>
<text x="44.4" y="217.7" font-size="12.0" text-anchor="end" fill="#111" stroke="#111" stroke-width="0.16">500</text>
<text x="44.4" y="154.3" font-size="12.0" text-anchor="end" fill="#111" stroke="#111" stroke-width="0.16">600</text>
<text x="44.4" y="90.5" font-size="12.0" text-anchor="end" fill="#111" stroke="#111" stroke-width="0.16">700</text>
<text x="44.4" y="26.6" font-size="12.0" text-anchor="end" fill="#111" stroke="#111" stroke-width="0.16">800</text>
<text x="223.4" y="368.6" font-size="13.4" text-anchor="middle" fill="#111" stroke="#111" stroke-width="0.16">Time (ns)</text>
<text transform="translate(12.6,180.4) rotate(-90)" font-size="13.4" text-anchor="middle" fill="#111" stroke="#111" stroke-width="0.16">Radius (μm)</text>
<text x="0.0" y="14.9" font-size="17.2" font-weight="bold">a</text>
<text x="422.6" y="19.0" font-size="17.5" font-weight="bold">b</text>
<text x="423.2" y="183.8" font-size="17.5" font-weight="bold">c</text>
<rect x="460.4" y="24.1" width="196.4" height="121.2" fill="none" stroke="#525252" stroke-width="0.8"/>
<path d="M460.40,145.3 v-3.2 M460.40,24.1 v3.2 M484.95,145.3 v-2.0 M484.95,24.1 v2.0 M509.50,145.3 v-3.2 M509.50,24.1 v3.2 M534.05,145.3 v-2.0 M534.05,24.1 v2.0 M558.60,145.3 v-3.2 M558.60,24.1 v3.2 M583.15,145.3 v-2.0 M583.15,24.1 v2.0 M607.70,145.3 v-3.2 M607.70,24.1 v3.2 M632.25,145.3 v-2.0 M632.25,24.1 v2.0 M656.80,145.3 v-3.2 M656.80,24.1 v3.2 M460.4,145.30 h3.4 M656.8,145.30 h-3.4 M460.4,133.14 h1.8 M656.8,133.14 h-1.8 M460.4,126.02 h1.8 M656.8,126.02 h-1.8 M460.4,120.98 h1.8 M656.8,120.98 h-1.8 M460.4,117.06 h1.8 M656.8,117.06 h-1.8 M460.4,113.86 h1.8 M656.8,113.86 h-1.8 M460.4,111.16 h1.8 M656.8,111.16 h-1.8 M460.4,108.82 h1.8 M656.8,108.82 h-1.8 M460.4,106.75 h1.8 M656.8,106.75 h-1.8 M460.4,104.90 h3.4 M656.8,104.90 h-3.4 M460.4,92.74 h1.8 M656.8,92.74 h-1.8 M460.4,85.62 h1.8 M656.8,85.62 h-1.8 M460.4,80.58 h1.8 M656.8,80.58 h-1.8 M460.4,76.66 h1.8 M656.8,76.66 h-1.8 M460.4,73.46 h1.8 M656.8,73.46 h-1.8 M460.4,70.76 h1.8 M656.8,70.76 h-1.8 M460.4,68.42 h1.8 M656.8,68.42 h-1.8 M460.4,66.35 h1.8 M656.8,66.35 h-1.8 M460.4,64.50 h3.4 M656.8,64.50 h-3.4 M460.4,52.34 h1.8 M656.8,52.34 h-1.8 M460.4,45.22 h1.8 M656.8,45.22 h-1.8 M460.4,40.18 h1.8 M656.8,40.18 h-1.8 M460.4,36.26 h1.8 M656.8,36.26 h-1.8 M460.4,33.06 h1.8 M656.8,33.06 h-1.8 M460.4,30.36 h1.8 M656.8,30.36 h-1.8 M460.4,28.02 h1.8 M656.8,28.02 h-1.8 M460.4,25.95 h1.8 M656.8,25.95 h-1.8" stroke="#525252" stroke-width="0.7" fill="none"/>
<path d="M495.6,72.4 V145 M536.6,71.4 V145" stroke="#b8b8b8" stroke-width="0.6" stroke-dasharray="0.9 1.1" fill="none"/>
<text x="496.3" y="69.9" font-size="7.8" text-anchor="middle" fill="#111" stroke="#111" stroke-width="0.16">RAF</text>
<text x="536.4" y="69.5" font-size="7.8" text-anchor="middle" fill="#111" stroke="#111" stroke-width="0.16">CWF</text>
<path d="M460.70,64.50 C461.17,64.45 462.78,64.42 463.50,64.20 C464.22,63.98 464.58,63.98 465.00,63.20 C465.42,62.42 465.72,61.03 466.00,59.50 C466.28,57.97 466.43,55.10 466.70,54.00 C466.97,52.90 467.10,53.12 467.60,52.90 C468.10,52.68 469.20,52.98 469.70,52.70 C470.20,52.42 470.30,51.70 470.60,51.20 C470.90,50.70 471.17,49.92 471.50,49.70 C471.83,49.48 472.20,49.70 472.60,49.90 C473.00,50.10 473.40,50.13 473.90,50.90 C474.40,51.67 475.02,52.88 475.60,54.50 C476.18,56.12 476.90,59.25 477.40,60.60 C477.90,61.95 478.32,61.95 478.60,62.60 C478.88,63.25 478.95,63.40 479.10,64.50 C479.25,65.60 479.43,67.62 479.50,69.20 C479.57,70.78 479.37,73.77 479.50,74.00 C479.63,74.23 479.97,71.52 480.30,70.60 C480.63,69.68 481.00,68.78 481.50,68.50 C482.00,68.22 482.60,68.28 483.30,68.90 C484.00,69.52 484.88,70.55 485.70,72.20 C486.52,73.85 487.58,77.10 488.20,78.80 C488.82,80.50 488.73,80.77 489.40,82.40 C490.07,84.03 491.15,86.98 492.20,88.60 C493.25,90.22 494.03,91.02 495.70,92.10 C497.37,93.18 499.15,94.12 502.20,95.10 C505.25,96.08 510.07,97.07 514.00,98.00 C517.93,98.93 522.83,100.07 525.80,100.70 C528.77,101.33 530.02,101.37 531.80,101.80 C533.58,102.23 535.22,102.57 536.50,103.30 C537.78,104.03 538.32,104.63 539.50,106.20 C540.68,107.77 541.93,110.43 543.60,112.70 C545.27,114.97 547.13,117.68 549.50,119.80 C551.87,121.92 554.45,123.63 557.80,125.40 C561.15,127.17 565.28,128.88 569.60,130.40 C573.92,131.92 578.63,133.28 583.70,134.50 C588.77,135.72 596.00,136.97 600.00,137.70 C604.00,138.43 602.48,138.12 607.70,138.90 C612.92,139.68 623.15,141.33 631.30,142.40 C639.45,143.47 652.38,144.82 656.60,145.30" fill="none" stroke="#141414" stroke-width="0.98" stroke-linejoin="round"/>
<path d="M460.70,132.20 C461.17,132.10 462.78,131.83 463.50,131.60 C464.22,131.37 464.60,131.30 465.00,130.80 C465.40,130.30 465.68,129.65 465.90,128.60 C466.12,127.55 466.13,125.37 466.30,124.50 C466.47,123.63 466.33,123.63 466.90,123.40 C467.47,123.17 468.53,124.03 469.70,123.10 C470.87,122.17 472.78,119.73 473.90,117.80 C475.02,115.87 475.72,113.17 476.40,111.50 C477.08,109.83 477.53,108.18 478.00,107.80 C478.47,107.42 478.80,108.37 479.20,109.20 C479.60,110.03 479.87,111.45 480.40,112.80 C480.93,114.15 481.62,117.12 482.40,117.30 C483.18,117.48 484.07,115.83 485.10,113.90 C486.13,111.97 487.42,108.05 488.60,105.70 C489.78,103.35 491.02,101.28 492.20,99.80 C493.38,98.32 494.03,97.54 495.70,96.80 C497.37,96.06 499.15,95.84 502.20,95.35 C505.25,94.86 510.07,94.23 514.00,93.85 C517.93,93.47 522.47,93.33 525.80,93.05 C529.13,92.77 532.20,92.44 534.00,92.15 C535.80,91.86 535.87,91.67 536.60,91.30 C537.33,90.92 537.82,90.50 538.40,89.90 C538.98,89.30 539.03,89.25 540.10,87.70 C541.17,86.15 543.22,82.57 544.80,80.60 C546.38,78.63 547.63,77.37 549.60,75.90 C551.57,74.43 553.85,73.12 556.60,71.80 C559.35,70.48 562.20,69.18 566.10,68.00 C570.00,66.82 575.17,65.83 580.00,64.70 C584.83,63.57 589.23,62.23 595.10,61.20 C600.97,60.17 608.48,59.23 615.20,58.50 C621.92,57.77 628.50,57.35 635.40,56.80 C642.30,56.25 653.07,55.47 656.60,55.20" fill="none" stroke="#1414ff" stroke-width="1.08" stroke-linejoin="round"/>
<path d="M460.70,124.50 C461.17,124.45 462.78,124.33 463.50,124.20 C464.22,124.07 464.58,124.13 465.00,123.70 C465.42,123.27 465.73,122.12 466.00,121.60 C466.27,121.08 465.98,120.83 466.60,120.60 C467.22,120.37 468.48,121.07 469.70,120.20 C470.92,119.33 472.82,117.10 473.90,115.40 C474.98,113.70 475.62,111.37 476.20,110.00 C476.78,108.63 477.07,107.88 477.40,107.20 C477.73,106.52 477.83,106.07 478.20,105.90 C478.57,105.73 479.05,106.03 479.60,106.20 C480.15,106.37 480.48,107.18 481.50,106.90 C482.52,106.62 484.22,105.68 485.70,104.50 C487.18,103.32 488.83,101.13 490.40,99.80 C491.97,98.47 493.13,97.41 495.10,96.50 C497.07,95.59 499.05,94.92 502.20,94.35 C505.35,93.77 510.07,93.40 514.00,93.05 C517.93,92.70 522.03,92.55 525.80,92.25 C529.57,91.95 530.90,91.38 536.60,91.25 C542.30,91.12 549.43,91.44 560.00,91.50 C570.57,91.56 583.90,91.52 600.00,91.60 C616.10,91.68 647.17,91.93 656.60,92.00" fill="none" stroke="#ff464c" stroke-width="0.95" stroke-linejoin="round"/>
<path d="M555.4,34.3 H576.8" stroke="#141414" stroke-width="1.1"/>
<path d="M588.9,34.3 H610.3" stroke="#1414ff" stroke-width="1.1"/>
<path d="M622.5,34.3 H644.2" stroke="#ff464c" stroke-width="1.05"/>
<text x="580.3" y="37.6" font-size="10" fill="#111" stroke="#111" stroke-width="0.16">ρ</text>
<text x="613.4" y="38.0" font-size="10" font-style="italic" fill="#111" stroke="#111" stroke-width="0.16">T<tspan font-size="7.2" dy="2.5" dx="-1.0" class="ser">e</tspan></text>
<text x="647.6" y="38.0" font-size="10" font-style="italic" fill="#111" stroke="#111" stroke-width="0.16">T<tspan font-size="7.2" dy="2.5" dx="-1.0" class="ser">r</tspan></text>
<text x="460.9" y="158.0" font-size="10.0" text-anchor="middle" fill="#111" stroke="#111" stroke-width="0.16">480</text>
<text x="510.0" y="158.0" font-size="10.0" text-anchor="middle" fill="#111" stroke="#111" stroke-width="0.16">500</text>
<text x="559.1" y="158.0" font-size="10.0" text-anchor="middle" fill="#111" stroke="#111" stroke-width="0.16">520</text>
<text x="608.2" y="158.0" font-size="10.0" text-anchor="middle" fill="#111" stroke="#111" stroke-width="0.16">540</text>
<text x="657.3" y="158.0" font-size="10.0" text-anchor="middle" fill="#111" stroke="#111" stroke-width="0.16">560</text>
<text x="457.6" y="27.8" font-size="10.0" text-anchor="end" fill="#111" stroke="#111" stroke-width="0.16">100</text>
<text x="457.6" y="68.2" font-size="10.0" text-anchor="end" fill="#111" stroke="#111" stroke-width="0.16">10</text>
<text x="457.6" y="108.6" font-size="10.0" text-anchor="end" fill="#111" stroke="#111" stroke-width="0.16">1</text>
<text x="457.6" y="149.0" font-size="10.0" text-anchor="end" fill="#111" stroke="#111" stroke-width="0.16">0.1</text>
<text x="659.7" y="29.3" font-size="10.8" fill="#111" stroke="#111" stroke-width="0.16" class="ser">10<tspan font-size="6.4" dy="-4.8" dx="0.3">4</tspan></text>
<text x="659.7" y="68.7" font-size="10.8" fill="#111" stroke="#111" stroke-width="0.16" class="ser">10<tspan font-size="6.4" dy="-4.8" dx="0.3">3</tspan></text>
<text x="659.7" y="109.1" font-size="10.8" fill="#111" stroke="#111" stroke-width="0.16" class="ser">10<tspan font-size="6.4" dy="-4.8" dx="0.3">2</tspan></text>
<text x="659.7" y="149.5" font-size="10.8" fill="#111" stroke="#111" stroke-width="0.16" class="ser">10<tspan font-size="6.4" dy="-4.8" dx="0.3">1</tspan></text>
<text x="558.6" y="169.7" font-size="10.9" text-anchor="middle" fill="#111" stroke="#111" stroke-width="0.16">Radius (μm)</text>
<text transform="translate(442.4,84.6) rotate(-90)" font-size="11.5" text-anchor="middle" fill="#111" stroke="#111" stroke-width="0.16">Density (g/cm<tspan font-size="7.2" dy="-4">3</tspan><tspan dy="4">)</tspan></text>
<text transform="translate(681.6,84.0) rotate(-90)" font-size="11.5" text-anchor="middle" fill="#111" stroke="#111" stroke-width="0.16">Temperature (eV)</text>
<rect x="466.1" y="188.4" width="187.3" height="150.8" fill="none" stroke="#525252" stroke-width="0.8"/>
<path d="M466.10,339.2 v-3.2 M466.10,188.4 v3.2 M489.51,339.2 v-2.0 M489.51,188.4 v2.0 M512.92,339.2 v-3.2 M512.92,188.4 v3.2 M536.34,339.2 v-2.0 M536.34,188.4 v2.0 M559.75,339.2 v-3.2 M559.75,188.4 v3.2 M583.16,339.2 v-2.0 M583.16,188.4 v2.0 M606.58,339.2 v-3.2 M606.58,188.4 v3.2 M629.99,339.2 v-2.0 M629.99,188.4 v2.0 M653.40,339.2 v-3.2 M653.40,188.4 v3.2 M466.1,339.20 h3.2 M653.4,339.20 h-3.2 M466.1,324.12 h2.0 M653.4,324.12 h-2.0 M466.1,309.04 h3.2 M653.4,309.04 h-3.2 M466.1,293.96 h2.0 M653.4,293.96 h-2.0 M466.1,278.88 h3.2 M653.4,278.88 h-3.2 M466.1,263.80 h2.0 M653.4,263.80 h-2.0 M466.1,248.72 h3.2 M653.4,248.72 h-3.2 M466.1,233.64 h2.0 M653.4,233.64 h-2.0 M466.1,218.56 h3.2 M653.4,218.56 h-3.2 M466.1,203.48 h2.0 M653.4,203.48 h-2.0 M466.1,188.40 h3.2 M653.4,188.40 h-3.2" stroke="#525252" stroke-width="0.7" fill="none"/>
<path d="M466.30,309.10 C466.47,308.97 467.02,308.82 467.30,308.30 C467.58,307.78 467.75,306.23 468.00,306.00 C468.25,305.77 468.47,307.02 468.80,306.90 C469.13,306.78 469.68,305.80 470.00,305.30 C470.32,304.80 470.50,305.12 470.70,303.90 C470.90,302.68 471.08,299.97 471.20,298.00 C471.32,296.03 471.33,295.10 471.40,292.10 C471.47,289.10 471.53,284.80 471.60,280.00 C471.67,275.20 471.72,266.80 471.80,263.30 C471.88,259.80 471.95,259.95 472.10,259.00 C472.25,258.05 472.27,258.00 472.70,257.60 C473.13,257.20 474.23,257.10 474.70,256.60 C475.17,256.10 475.32,255.70 475.50,254.60 C475.68,253.50 475.72,252.48 475.80,250.00 C475.88,247.52 475.90,242.87 476.00,239.70 C476.10,236.53 476.23,233.12 476.40,231.00 C476.57,228.88 476.73,228.07 477.00,227.00 C477.27,225.93 477.52,225.58 478.00,224.60 C478.48,223.62 479.32,222.10 479.90,221.10 C480.48,220.10 481.00,219.45 481.50,218.60 C482.00,217.75 482.48,217.07 482.90,216.00 C483.32,214.93 483.63,213.43 484.00,212.20 C484.37,210.97 484.63,209.67 485.10,208.60 C485.57,207.53 486.18,206.58 486.80,205.80 C487.42,205.02 488.10,204.42 488.80,203.90 C489.50,203.38 490.27,203.02 491.00,202.70 C491.73,202.38 492.53,202.35 493.20,202.00 C493.87,201.65 494.38,201.10 495.00,200.60 C495.62,200.10 496.15,199.53 496.90,199.00 C497.65,198.47 498.65,197.88 499.50,197.40 C500.35,196.92 501.28,196.18 502.00,196.10 C502.72,196.02 503.18,196.53 503.80,196.90 C504.42,197.27 504.40,197.33 505.70,198.30 C507.00,199.27 509.63,201.23 511.60,202.70 C513.57,204.17 515.93,205.78 517.50,207.10 C519.07,208.42 519.77,209.48 521.00,210.60 C522.23,211.72 522.78,212.50 524.90,213.80 C527.02,215.10 530.27,216.63 533.70,218.40 C537.13,220.17 541.95,222.60 545.50,224.40 C549.05,226.20 552.58,228.07 555.00,229.20 C557.42,230.33 555.98,229.83 560.00,231.20 C564.02,232.57 571.90,235.38 579.10,237.40 C586.30,239.42 595.15,241.40 603.20,243.30 C611.25,245.20 619.07,247.00 627.40,248.80 C635.73,250.60 648.90,253.22 653.20,254.10" fill="none" stroke="#141414" stroke-width="1.35" stroke-linejoin="round"/>
<text x="466.1" y="352.1" font-size="11.2" text-anchor="middle" fill="#111" stroke="#111" stroke-width="0.16">480</text>
<text x="512.9" y="352.1" font-size="11.2" text-anchor="middle" fill="#111" stroke="#111" stroke-width="0.16">500</text>
<text x="559.8" y="352.1" font-size="11.2" text-anchor="middle" fill="#111" stroke="#111" stroke-width="0.16">520</text>
<text x="606.6" y="352.1" font-size="11.2" text-anchor="middle" fill="#111" stroke="#111" stroke-width="0.16">540</text>
<text x="653.4" y="352.1" font-size="11.2" text-anchor="middle" fill="#111" stroke="#111" stroke-width="0.16">560</text>
<text x="462.6" y="342.9" font-size="11.2" text-anchor="end" fill="#111" stroke="#111" stroke-width="0.16">0</text>
<text x="462.6" y="313.5" font-size="11.2" text-anchor="end" fill="#111" stroke="#111" stroke-width="0.16">40</text>
<text x="462.6" y="283.4" font-size="11.2" text-anchor="end" fill="#111" stroke="#111" stroke-width="0.16">80</text>
<text x="462.6" y="253.2" font-size="11.2" text-anchor="end" fill="#111" stroke="#111" stroke-width="0.16">120</text>
<text x="462.6" y="223.1" font-size="11.2" text-anchor="end" fill="#111" stroke="#111" stroke-width="0.16">160</text>
<text x="462.6" y="192.9" font-size="11.2" text-anchor="end" fill="#111" stroke="#111" stroke-width="0.16">200</text>
<text x="562.6" y="366.7" font-size="11.5" text-anchor="middle" fill="#111" stroke="#111" stroke-width="0.16">Radius (μm)</text>
<text transform="translate(440.2,263.5) rotate(-90)" font-size="11.5" text-anchor="middle" fill="#111" stroke="#111" stroke-width="0.16">Pressure (Mbar)</text>
</svg>
</body></html>
